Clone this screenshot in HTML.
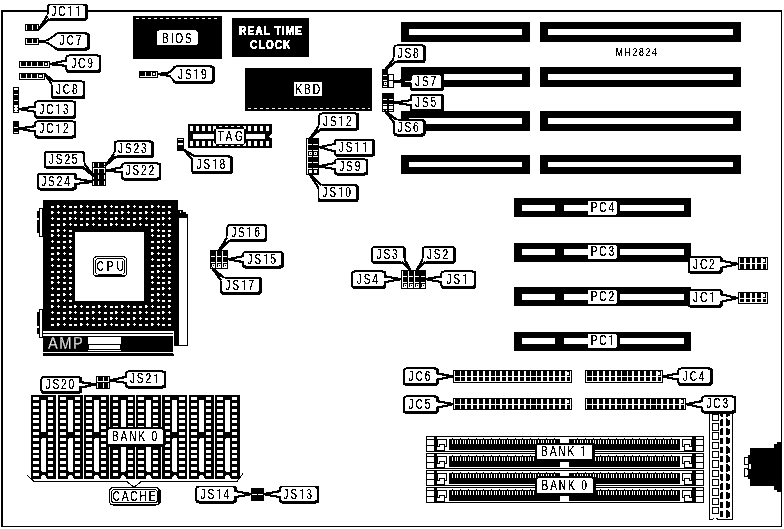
<!DOCTYPE html>
<html><head><meta charset="utf-8"><title>MH2824 motherboard layout</title>
<style>
html,body{margin:0;padding:0;background:#fff;}
body{width:784px;height:529px;overflow:hidden;font-family:"Liberation Sans",sans-serif;}
svg{display:block;}
text{font-family:"Liberation Sans",sans-serif;}
</style></head><body>
<svg width="784" height="529" viewBox="0 0 784 529" shape-rendering="auto">
<defs><filter id="bw" x="0" y="0" width="784" height="529" filterUnits="userSpaceOnUse" color-interpolation-filters="sRGB">
<feColorMatrix type="saturate" values="0"/>
<feComponentTransfer><feFuncR type="discrete" tableValues="0 1"/><feFuncG type="discrete" tableValues="0 1"/><feFuncB type="discrete" tableValues="0 1"/></feComponentTransfer>
</filter>
<filter id="bwt" x="0" y="0" width="784" height="529" filterUnits="userSpaceOnUse" color-interpolation-filters="sRGB">
<feComponentTransfer><feFuncA type="discrete" tableValues="0 0 0 1 1 1 1 1"/></feComponentTransfer>
</filter></defs>
<g filter="url(#bw)">
<rect x="0" y="0" width="784" height="529" fill="#fff"/>
<rect x="1.00" y="10.00" width="781.00" height="517.00" fill="#000" />
<rect x="3.00" y="12.00" width="778.00" height="514.00" fill="#fff" />
<rect x="133.00" y="16.00" width="89.00" height="43.00" fill="#000" />
<path d="M136 18.5 H220" stroke="#fff" stroke-width="1" stroke-dasharray="3 3"/>
<rect x="157.00" y="30.50" width="40.50" height="14.50" fill="#fff" rx="1.5"/>
<rect x="232.00" y="18.00" width="77.00" height="39.00" fill="#000" />
<rect x="245.00" y="68.00" width="127.00" height="43.00" fill="#000" />
<path d="M248 108.5 H370" stroke="#fff" stroke-width="1" stroke-dasharray="3 3"/>
<rect x="294.00" y="82.00" width="28.00" height="14.00" fill="#fff" />
<rect x="188.00" y="124.00" width="84.00" height="24.00" fill="#000" />
<rect x="190.00" y="126.00" width="3.00" height="5.00" fill="#fff" />
<rect x="190.00" y="141.00" width="3.00" height="5.00" fill="#fff" />
<rect x="196.00" y="126.00" width="3.00" height="5.00" fill="#fff" />
<rect x="196.00" y="141.00" width="3.00" height="5.00" fill="#fff" />
<rect x="202.00" y="126.00" width="3.00" height="5.00" fill="#fff" />
<rect x="202.00" y="141.00" width="3.00" height="5.00" fill="#fff" />
<rect x="208.00" y="126.00" width="3.00" height="5.00" fill="#fff" />
<rect x="208.00" y="141.00" width="3.00" height="5.00" fill="#fff" />
<rect x="213.00" y="126.00" width="3.00" height="5.00" fill="#fff" />
<rect x="213.00" y="141.00" width="3.00" height="5.00" fill="#fff" />
<rect x="219.00" y="126.00" width="3.00" height="5.00" fill="#fff" />
<rect x="219.00" y="141.00" width="3.00" height="5.00" fill="#fff" />
<rect x="225.00" y="126.00" width="3.00" height="5.00" fill="#fff" />
<rect x="225.00" y="141.00" width="3.00" height="5.00" fill="#fff" />
<rect x="231.00" y="126.00" width="3.00" height="5.00" fill="#fff" />
<rect x="231.00" y="141.00" width="3.00" height="5.00" fill="#fff" />
<rect x="237.00" y="126.00" width="3.00" height="5.00" fill="#fff" />
<rect x="237.00" y="141.00" width="3.00" height="5.00" fill="#fff" />
<rect x="243.00" y="126.00" width="3.00" height="5.00" fill="#fff" />
<rect x="243.00" y="141.00" width="3.00" height="5.00" fill="#fff" />
<rect x="248.00" y="126.00" width="3.00" height="5.00" fill="#fff" />
<rect x="248.00" y="141.00" width="3.00" height="5.00" fill="#fff" />
<rect x="254.00" y="126.00" width="3.00" height="5.00" fill="#fff" />
<rect x="254.00" y="141.00" width="3.00" height="5.00" fill="#fff" />
<rect x="260.00" y="126.00" width="3.00" height="5.00" fill="#fff" />
<rect x="260.00" y="141.00" width="3.00" height="5.00" fill="#fff" />
<rect x="266.00" y="126.00" width="3.00" height="5.00" fill="#fff" />
<rect x="266.00" y="141.00" width="3.00" height="5.00" fill="#fff" />
<rect x="193.00" y="134.00" width="72.00" height="5.00" fill="#fff" />
<path d="M272.2 133.8 L268.8 136.4 L272.2 139 Z" fill="#fff"/>
<rect x="214.00" y="127.00" width="32.00" height="18.00" fill="#000" />
<rect x="214" y="127" width="2" height="2" fill="#fff"/><rect x="244" y="127" width="2" height="2" fill="#fff"/><rect x="214" y="143" width="2" height="2" fill="#fff"/><rect x="244" y="143" width="2" height="2" fill="#fff"/>
<rect x="215" y="128" width="30" height="16" rx="1.5" fill="#000"/>
<rect x="216.00" y="129.00" width="28.00" height="14.50" fill="#fff" />
<rect x="401.00" y="22.00" width="129.00" height="20.00" fill="#000" />
<rect x="409.00" y="29.00" width="113.00" height="6.00" fill="#fff" />
<rect x="540.00" y="22.00" width="201.00" height="20.00" fill="#000" />
<rect x="548.00" y="29.00" width="185.00" height="6.00" fill="#fff" />
<rect x="401.00" y="67.00" width="129.00" height="20.00" fill="#000" />
<rect x="412.00" y="74.00" width="110.00" height="6.00" fill="#fff" />
<rect x="540.00" y="67.00" width="201.00" height="20.00" fill="#000" />
<rect x="548.00" y="74.00" width="185.00" height="6.00" fill="#fff" />
<rect x="401.00" y="111.00" width="129.00" height="20.00" fill="#000" />
<rect x="409.00" y="118.00" width="113.00" height="6.00" fill="#fff" />
<rect x="540.00" y="111.00" width="201.00" height="20.00" fill="#000" />
<rect x="548.00" y="118.00" width="185.00" height="6.00" fill="#fff" />
<rect x="401.00" y="155.00" width="129.00" height="19.00" fill="#000" />
<rect x="409.00" y="162.00" width="113.00" height="5.00" fill="#fff" />
<rect x="540.00" y="155.00" width="201.00" height="19.00" fill="#000" />
<rect x="548.00" y="162.00" width="185.00" height="5.00" fill="#fff" />
<rect x="514.00" y="198.00" width="177.00" height="19.00" fill="#000" />
<rect x="522.00" y="205.00" width="33.00" height="6.00" fill="#fff" />
<rect x="564.00" y="205.00" width="25.00" height="6.00" fill="#fff" />
<rect x="620.00" y="205.00" width="64.00" height="6.00" fill="#fff" />
<rect x="587.6" y="201" width="29.6" height="14" rx="2" fill="#fff"/>
<rect x="514.00" y="243.00" width="177.00" height="19.00" fill="#000" />
<rect x="522.00" y="249.00" width="33.00" height="6.00" fill="#fff" />
<rect x="564.00" y="249.00" width="25.00" height="6.00" fill="#fff" />
<rect x="620.00" y="249.00" width="64.00" height="6.00" fill="#fff" />
<rect x="587.6" y="245" width="29.6" height="14" rx="2" fill="#fff"/>
<rect x="514.00" y="287.00" width="177.00" height="19.00" fill="#000" />
<rect x="522.00" y="294.00" width="33.00" height="6.00" fill="#fff" />
<rect x="564.00" y="294.00" width="25.00" height="6.00" fill="#fff" />
<rect x="620.00" y="294.00" width="64.00" height="6.00" fill="#fff" />
<rect x="587.6" y="290" width="29.6" height="14" rx="2" fill="#fff"/>
<rect x="514.00" y="332.00" width="177.00" height="19.00" fill="#000" />
<rect x="522.00" y="338.00" width="33.00" height="6.00" fill="#fff" />
<rect x="564.00" y="338.00" width="25.00" height="6.00" fill="#fff" />
<rect x="620.00" y="338.00" width="64.00" height="6.00" fill="#fff" />
<rect x="587.6" y="334" width="29.6" height="14" rx="2" fill="#fff"/>
<rect x="37.00" y="211.00" width="3.00" height="22.00" fill="#000" />
<rect x="39.00" y="208.00" width="4.50" height="29.00" fill="#000" />
<rect x="40.00" y="209.00" width="2.00" height="27.00" fill="#fff" />
<rect x="36.50" y="218.50" width="2.50" height="1.00" fill="#fff" />
<rect x="37.00" y="312.00" width="3.00" height="22.00" fill="#000" />
<rect x="39.00" y="309.00" width="4.50" height="29.00" fill="#000" />
<rect x="40.00" y="310.00" width="2.00" height="27.00" fill="#fff" />
<rect x="36.50" y="326.50" width="2.50" height="1.00" fill="#fff" />
<rect x="178.00" y="210.00" width="5.00" height="2.00" fill="#000" />
<rect x="178.00" y="212.00" width="8.00" height="2.00" fill="#000" />
<rect x="178.00" y="214.00" width="10.20" height="132.00" fill="#000" />
<rect x="179.00" y="218.20" width="8.00" height="126.60" fill="#fff" />
<rect x="180.00" y="211.00" width="1.00" height="2.00" fill="#fff" />
<rect x="43.00" y="200.00" width="135.00" height="155.50" fill="#000" />
<rect x="75.00" y="232.00" width="69.00" height="68.70" fill="#fff" />
<rect x="51.00" y="206.00" width="3.00" height="2.00" fill="#fff" />
<rect x="57.00" y="205.00" width="2.00" height="3.00" fill="#fff" />
<rect x="59.00" y="206.00" width="1.00" height="1.00" fill="#fff" />
<rect x="63.00" y="206.00" width="3.00" height="1.00" fill="#fff" />
<rect x="64.00" y="205.00" width="1.00" height="3.00" fill="#fff" />
<rect x="69.00" y="206.00" width="3.00" height="2.00" fill="#fff" />
<rect x="74.00" y="206.00" width="3.00" height="2.00" fill="#fff" />
<rect x="80.00" y="205.00" width="2.00" height="3.00" fill="#fff" />
<rect x="82.00" y="206.00" width="1.00" height="1.00" fill="#fff" />
<rect x="86.00" y="206.00" width="3.00" height="1.00" fill="#fff" />
<rect x="87.00" y="205.00" width="1.00" height="3.00" fill="#fff" />
<rect x="92.00" y="206.00" width="3.00" height="2.00" fill="#fff" />
<rect x="98.00" y="206.00" width="3.00" height="2.00" fill="#fff" />
<rect x="104.00" y="205.00" width="2.00" height="3.00" fill="#fff" />
<rect x="106.00" y="206.00" width="1.00" height="1.00" fill="#fff" />
<rect x="110.00" y="206.00" width="3.00" height="1.00" fill="#fff" />
<rect x="111.00" y="205.00" width="1.00" height="3.00" fill="#fff" />
<rect x="115.00" y="206.00" width="3.00" height="2.00" fill="#fff" />
<rect x="121.00" y="206.00" width="3.00" height="2.00" fill="#fff" />
<rect x="127.00" y="205.00" width="2.00" height="3.00" fill="#fff" />
<rect x="129.00" y="206.00" width="1.00" height="1.00" fill="#fff" />
<rect x="133.00" y="206.00" width="3.00" height="1.00" fill="#fff" />
<rect x="134.00" y="205.00" width="1.00" height="3.00" fill="#fff" />
<rect x="139.00" y="206.00" width="3.00" height="2.00" fill="#fff" />
<rect x="145.00" y="206.00" width="3.00" height="2.00" fill="#fff" />
<rect x="151.00" y="205.00" width="2.00" height="3.00" fill="#fff" />
<rect x="153.00" y="206.00" width="1.00" height="1.00" fill="#fff" />
<rect x="157.00" y="206.00" width="3.00" height="1.00" fill="#fff" />
<rect x="158.00" y="205.00" width="1.00" height="3.00" fill="#fff" />
<rect x="162.00" y="206.00" width="3.00" height="2.00" fill="#fff" />
<rect x="168.00" y="206.00" width="3.00" height="2.00" fill="#fff" />
<rect x="51.00" y="211.00" width="2.00" height="3.00" fill="#fff" />
<rect x="53.00" y="212.00" width="1.00" height="1.00" fill="#fff" />
<rect x="57.00" y="212.00" width="3.00" height="1.00" fill="#fff" />
<rect x="58.00" y="211.00" width="1.00" height="3.00" fill="#fff" />
<rect x="63.00" y="212.00" width="3.00" height="2.00" fill="#fff" />
<rect x="69.00" y="212.00" width="3.00" height="2.00" fill="#fff" />
<rect x="74.00" y="211.00" width="2.00" height="3.00" fill="#fff" />
<rect x="76.00" y="212.00" width="1.00" height="1.00" fill="#fff" />
<rect x="80.00" y="212.00" width="3.00" height="1.00" fill="#fff" />
<rect x="81.00" y="211.00" width="1.00" height="3.00" fill="#fff" />
<rect x="86.00" y="212.00" width="3.00" height="2.00" fill="#fff" />
<rect x="92.00" y="212.00" width="3.00" height="2.00" fill="#fff" />
<rect x="98.00" y="211.00" width="2.00" height="3.00" fill="#fff" />
<rect x="100.00" y="212.00" width="1.00" height="1.00" fill="#fff" />
<rect x="104.00" y="212.00" width="3.00" height="1.00" fill="#fff" />
<rect x="105.00" y="211.00" width="1.00" height="3.00" fill="#fff" />
<rect x="110.00" y="212.00" width="3.00" height="2.00" fill="#fff" />
<rect x="115.00" y="212.00" width="3.00" height="2.00" fill="#fff" />
<rect x="121.00" y="211.00" width="2.00" height="3.00" fill="#fff" />
<rect x="123.00" y="212.00" width="1.00" height="1.00" fill="#fff" />
<rect x="127.00" y="212.00" width="3.00" height="1.00" fill="#fff" />
<rect x="128.00" y="211.00" width="1.00" height="3.00" fill="#fff" />
<rect x="133.00" y="212.00" width="3.00" height="2.00" fill="#fff" />
<rect x="139.00" y="212.00" width="3.00" height="2.00" fill="#fff" />
<rect x="145.00" y="211.00" width="2.00" height="3.00" fill="#fff" />
<rect x="147.00" y="212.00" width="1.00" height="1.00" fill="#fff" />
<rect x="151.00" y="212.00" width="3.00" height="1.00" fill="#fff" />
<rect x="152.00" y="211.00" width="1.00" height="3.00" fill="#fff" />
<rect x="157.00" y="212.00" width="3.00" height="2.00" fill="#fff" />
<rect x="162.00" y="212.00" width="3.00" height="2.00" fill="#fff" />
<rect x="168.00" y="211.00" width="2.00" height="3.00" fill="#fff" />
<rect x="170.00" y="212.00" width="1.00" height="1.00" fill="#fff" />
<rect x="51.00" y="218.00" width="3.00" height="1.00" fill="#fff" />
<rect x="52.00" y="217.00" width="1.00" height="3.00" fill="#fff" />
<rect x="57.00" y="218.00" width="3.00" height="2.00" fill="#fff" />
<rect x="63.00" y="218.00" width="3.00" height="2.00" fill="#fff" />
<rect x="69.00" y="217.00" width="2.00" height="3.00" fill="#fff" />
<rect x="71.00" y="218.00" width="1.00" height="1.00" fill="#fff" />
<rect x="74.00" y="218.00" width="3.00" height="1.00" fill="#fff" />
<rect x="75.00" y="217.00" width="1.00" height="3.00" fill="#fff" />
<rect x="80.00" y="218.00" width="3.00" height="2.00" fill="#fff" />
<rect x="86.00" y="218.00" width="3.00" height="2.00" fill="#fff" />
<rect x="92.00" y="217.00" width="2.00" height="3.00" fill="#fff" />
<rect x="94.00" y="218.00" width="1.00" height="1.00" fill="#fff" />
<rect x="98.00" y="218.00" width="3.00" height="1.00" fill="#fff" />
<rect x="99.00" y="217.00" width="1.00" height="3.00" fill="#fff" />
<rect x="104.00" y="218.00" width="3.00" height="2.00" fill="#fff" />
<rect x="110.00" y="218.00" width="3.00" height="2.00" fill="#fff" />
<rect x="115.00" y="217.00" width="2.00" height="3.00" fill="#fff" />
<rect x="117.00" y="218.00" width="1.00" height="1.00" fill="#fff" />
<rect x="121.00" y="218.00" width="3.00" height="1.00" fill="#fff" />
<rect x="122.00" y="217.00" width="1.00" height="3.00" fill="#fff" />
<rect x="127.00" y="218.00" width="3.00" height="2.00" fill="#fff" />
<rect x="133.00" y="218.00" width="3.00" height="2.00" fill="#fff" />
<rect x="139.00" y="217.00" width="2.00" height="3.00" fill="#fff" />
<rect x="141.00" y="218.00" width="1.00" height="1.00" fill="#fff" />
<rect x="145.00" y="218.00" width="3.00" height="1.00" fill="#fff" />
<rect x="146.00" y="217.00" width="1.00" height="3.00" fill="#fff" />
<rect x="151.00" y="218.00" width="3.00" height="2.00" fill="#fff" />
<rect x="157.00" y="218.00" width="3.00" height="2.00" fill="#fff" />
<rect x="162.00" y="217.00" width="2.00" height="3.00" fill="#fff" />
<rect x="164.00" y="218.00" width="1.00" height="1.00" fill="#fff" />
<rect x="168.00" y="218.00" width="3.00" height="1.00" fill="#fff" />
<rect x="169.00" y="217.00" width="1.00" height="3.00" fill="#fff" />
<rect x="51.00" y="224.00" width="3.00" height="2.00" fill="#fff" />
<rect x="57.00" y="224.00" width="3.00" height="2.00" fill="#fff" />
<rect x="63.00" y="223.00" width="2.00" height="3.00" fill="#fff" />
<rect x="65.00" y="224.00" width="1.00" height="1.00" fill="#fff" />
<rect x="69.00" y="224.00" width="3.00" height="1.00" fill="#fff" />
<rect x="70.00" y="223.00" width="1.00" height="3.00" fill="#fff" />
<rect x="74.00" y="224.00" width="3.00" height="2.00" fill="#fff" />
<rect x="80.00" y="224.00" width="3.00" height="2.00" fill="#fff" />
<rect x="86.00" y="223.00" width="2.00" height="3.00" fill="#fff" />
<rect x="88.00" y="224.00" width="1.00" height="1.00" fill="#fff" />
<rect x="92.00" y="224.00" width="3.00" height="1.00" fill="#fff" />
<rect x="93.00" y="223.00" width="1.00" height="3.00" fill="#fff" />
<rect x="98.00" y="224.00" width="3.00" height="2.00" fill="#fff" />
<rect x="104.00" y="224.00" width="3.00" height="2.00" fill="#fff" />
<rect x="110.00" y="223.00" width="2.00" height="3.00" fill="#fff" />
<rect x="112.00" y="224.00" width="1.00" height="1.00" fill="#fff" />
<rect x="115.00" y="224.00" width="3.00" height="1.00" fill="#fff" />
<rect x="116.00" y="223.00" width="1.00" height="3.00" fill="#fff" />
<rect x="121.00" y="224.00" width="3.00" height="2.00" fill="#fff" />
<rect x="127.00" y="224.00" width="3.00" height="2.00" fill="#fff" />
<rect x="133.00" y="223.00" width="2.00" height="3.00" fill="#fff" />
<rect x="135.00" y="224.00" width="1.00" height="1.00" fill="#fff" />
<rect x="139.00" y="224.00" width="3.00" height="1.00" fill="#fff" />
<rect x="140.00" y="223.00" width="1.00" height="3.00" fill="#fff" />
<rect x="145.00" y="224.00" width="3.00" height="2.00" fill="#fff" />
<rect x="151.00" y="224.00" width="3.00" height="2.00" fill="#fff" />
<rect x="157.00" y="223.00" width="2.00" height="3.00" fill="#fff" />
<rect x="159.00" y="224.00" width="1.00" height="1.00" fill="#fff" />
<rect x="162.00" y="224.00" width="3.00" height="1.00" fill="#fff" />
<rect x="163.00" y="223.00" width="1.00" height="3.00" fill="#fff" />
<rect x="168.00" y="224.00" width="3.00" height="2.00" fill="#fff" />
<rect x="51.00" y="230.00" width="3.00" height="2.00" fill="#fff" />
<rect x="57.00" y="229.00" width="2.00" height="3.00" fill="#fff" />
<rect x="59.00" y="230.00" width="1.00" height="1.00" fill="#fff" />
<rect x="63.00" y="230.00" width="3.00" height="1.00" fill="#fff" />
<rect x="64.00" y="229.00" width="1.00" height="3.00" fill="#fff" />
<rect x="69.00" y="230.00" width="3.00" height="2.00" fill="#fff" />
<rect x="151.00" y="229.00" width="2.00" height="3.00" fill="#fff" />
<rect x="153.00" y="230.00" width="1.00" height="1.00" fill="#fff" />
<rect x="157.00" y="230.00" width="3.00" height="1.00" fill="#fff" />
<rect x="158.00" y="229.00" width="1.00" height="3.00" fill="#fff" />
<rect x="162.00" y="230.00" width="3.00" height="2.00" fill="#fff" />
<rect x="168.00" y="230.00" width="3.00" height="2.00" fill="#fff" />
<rect x="51.00" y="234.00" width="2.00" height="3.00" fill="#fff" />
<rect x="53.00" y="235.00" width="1.00" height="1.00" fill="#fff" />
<rect x="57.00" y="235.00" width="3.00" height="1.00" fill="#fff" />
<rect x="58.00" y="234.00" width="1.00" height="3.00" fill="#fff" />
<rect x="63.00" y="235.00" width="3.00" height="2.00" fill="#fff" />
<rect x="69.00" y="235.00" width="3.00" height="2.00" fill="#fff" />
<rect x="151.00" y="235.00" width="3.00" height="1.00" fill="#fff" />
<rect x="152.00" y="234.00" width="1.00" height="3.00" fill="#fff" />
<rect x="157.00" y="235.00" width="3.00" height="2.00" fill="#fff" />
<rect x="162.00" y="235.00" width="3.00" height="2.00" fill="#fff" />
<rect x="168.00" y="234.00" width="2.00" height="3.00" fill="#fff" />
<rect x="170.00" y="235.00" width="1.00" height="1.00" fill="#fff" />
<rect x="51.00" y="241.00" width="3.00" height="1.00" fill="#fff" />
<rect x="52.00" y="240.00" width="1.00" height="3.00" fill="#fff" />
<rect x="57.00" y="241.00" width="3.00" height="2.00" fill="#fff" />
<rect x="63.00" y="241.00" width="3.00" height="2.00" fill="#fff" />
<rect x="69.00" y="240.00" width="2.00" height="3.00" fill="#fff" />
<rect x="71.00" y="241.00" width="1.00" height="1.00" fill="#fff" />
<rect x="151.00" y="241.00" width="3.00" height="2.00" fill="#fff" />
<rect x="157.00" y="241.00" width="3.00" height="2.00" fill="#fff" />
<rect x="162.00" y="240.00" width="2.00" height="3.00" fill="#fff" />
<rect x="164.00" y="241.00" width="1.00" height="1.00" fill="#fff" />
<rect x="168.00" y="241.00" width="3.00" height="1.00" fill="#fff" />
<rect x="169.00" y="240.00" width="1.00" height="3.00" fill="#fff" />
<rect x="51.00" y="247.00" width="3.00" height="2.00" fill="#fff" />
<rect x="57.00" y="247.00" width="3.00" height="2.00" fill="#fff" />
<rect x="63.00" y="246.00" width="2.00" height="3.00" fill="#fff" />
<rect x="65.00" y="247.00" width="1.00" height="1.00" fill="#fff" />
<rect x="69.00" y="247.00" width="3.00" height="1.00" fill="#fff" />
<rect x="70.00" y="246.00" width="1.00" height="3.00" fill="#fff" />
<rect x="151.00" y="247.00" width="3.00" height="2.00" fill="#fff" />
<rect x="157.00" y="246.00" width="2.00" height="3.00" fill="#fff" />
<rect x="159.00" y="247.00" width="1.00" height="1.00" fill="#fff" />
<rect x="162.00" y="247.00" width="3.00" height="1.00" fill="#fff" />
<rect x="163.00" y="246.00" width="1.00" height="3.00" fill="#fff" />
<rect x="168.00" y="247.00" width="3.00" height="2.00" fill="#fff" />
<rect x="51.00" y="253.00" width="3.00" height="2.00" fill="#fff" />
<rect x="57.00" y="252.00" width="2.00" height="3.00" fill="#fff" />
<rect x="59.00" y="253.00" width="1.00" height="1.00" fill="#fff" />
<rect x="63.00" y="253.00" width="3.00" height="1.00" fill="#fff" />
<rect x="64.00" y="252.00" width="1.00" height="3.00" fill="#fff" />
<rect x="69.00" y="253.00" width="3.00" height="2.00" fill="#fff" />
<rect x="151.00" y="252.00" width="2.00" height="3.00" fill="#fff" />
<rect x="153.00" y="253.00" width="1.00" height="1.00" fill="#fff" />
<rect x="157.00" y="253.00" width="3.00" height="1.00" fill="#fff" />
<rect x="158.00" y="252.00" width="1.00" height="3.00" fill="#fff" />
<rect x="162.00" y="253.00" width="3.00" height="2.00" fill="#fff" />
<rect x="168.00" y="253.00" width="3.00" height="2.00" fill="#fff" />
<rect x="51.00" y="258.00" width="2.00" height="3.00" fill="#fff" />
<rect x="53.00" y="259.00" width="1.00" height="1.00" fill="#fff" />
<rect x="57.00" y="259.00" width="3.00" height="1.00" fill="#fff" />
<rect x="58.00" y="258.00" width="1.00" height="3.00" fill="#fff" />
<rect x="63.00" y="259.00" width="3.00" height="2.00" fill="#fff" />
<rect x="69.00" y="259.00" width="3.00" height="2.00" fill="#fff" />
<rect x="151.00" y="259.00" width="3.00" height="1.00" fill="#fff" />
<rect x="152.00" y="258.00" width="1.00" height="3.00" fill="#fff" />
<rect x="157.00" y="259.00" width="3.00" height="2.00" fill="#fff" />
<rect x="162.00" y="259.00" width="3.00" height="2.00" fill="#fff" />
<rect x="168.00" y="258.00" width="2.00" height="3.00" fill="#fff" />
<rect x="170.00" y="259.00" width="1.00" height="1.00" fill="#fff" />
<rect x="51.00" y="265.00" width="3.00" height="1.00" fill="#fff" />
<rect x="52.00" y="264.00" width="1.00" height="3.00" fill="#fff" />
<rect x="57.00" y="265.00" width="3.00" height="2.00" fill="#fff" />
<rect x="63.00" y="265.00" width="3.00" height="2.00" fill="#fff" />
<rect x="69.00" y="264.00" width="2.00" height="3.00" fill="#fff" />
<rect x="71.00" y="265.00" width="1.00" height="1.00" fill="#fff" />
<rect x="151.00" y="265.00" width="3.00" height="2.00" fill="#fff" />
<rect x="157.00" y="265.00" width="3.00" height="2.00" fill="#fff" />
<rect x="162.00" y="264.00" width="2.00" height="3.00" fill="#fff" />
<rect x="164.00" y="265.00" width="1.00" height="1.00" fill="#fff" />
<rect x="168.00" y="265.00" width="3.00" height="1.00" fill="#fff" />
<rect x="169.00" y="264.00" width="1.00" height="3.00" fill="#fff" />
<rect x="51.00" y="271.00" width="3.00" height="2.00" fill="#fff" />
<rect x="57.00" y="271.00" width="3.00" height="2.00" fill="#fff" />
<rect x="63.00" y="270.00" width="2.00" height="3.00" fill="#fff" />
<rect x="65.00" y="271.00" width="1.00" height="1.00" fill="#fff" />
<rect x="69.00" y="271.00" width="3.00" height="1.00" fill="#fff" />
<rect x="70.00" y="270.00" width="1.00" height="3.00" fill="#fff" />
<rect x="151.00" y="271.00" width="3.00" height="2.00" fill="#fff" />
<rect x="157.00" y="270.00" width="2.00" height="3.00" fill="#fff" />
<rect x="159.00" y="271.00" width="1.00" height="1.00" fill="#fff" />
<rect x="162.00" y="271.00" width="3.00" height="1.00" fill="#fff" />
<rect x="163.00" y="270.00" width="1.00" height="3.00" fill="#fff" />
<rect x="168.00" y="271.00" width="3.00" height="2.00" fill="#fff" />
<rect x="51.00" y="277.00" width="3.00" height="2.00" fill="#fff" />
<rect x="57.00" y="276.00" width="2.00" height="3.00" fill="#fff" />
<rect x="59.00" y="277.00" width="1.00" height="1.00" fill="#fff" />
<rect x="63.00" y="277.00" width="3.00" height="1.00" fill="#fff" />
<rect x="64.00" y="276.00" width="1.00" height="3.00" fill="#fff" />
<rect x="69.00" y="277.00" width="3.00" height="2.00" fill="#fff" />
<rect x="151.00" y="276.00" width="2.00" height="3.00" fill="#fff" />
<rect x="153.00" y="277.00" width="1.00" height="1.00" fill="#fff" />
<rect x="157.00" y="277.00" width="3.00" height="1.00" fill="#fff" />
<rect x="158.00" y="276.00" width="1.00" height="3.00" fill="#fff" />
<rect x="162.00" y="277.00" width="3.00" height="2.00" fill="#fff" />
<rect x="168.00" y="277.00" width="3.00" height="2.00" fill="#fff" />
<rect x="51.00" y="281.00" width="2.00" height="3.00" fill="#fff" />
<rect x="53.00" y="282.00" width="1.00" height="1.00" fill="#fff" />
<rect x="57.00" y="282.00" width="3.00" height="1.00" fill="#fff" />
<rect x="58.00" y="281.00" width="1.00" height="3.00" fill="#fff" />
<rect x="63.00" y="282.00" width="3.00" height="2.00" fill="#fff" />
<rect x="69.00" y="282.00" width="3.00" height="2.00" fill="#fff" />
<rect x="151.00" y="282.00" width="3.00" height="1.00" fill="#fff" />
<rect x="152.00" y="281.00" width="1.00" height="3.00" fill="#fff" />
<rect x="157.00" y="282.00" width="3.00" height="2.00" fill="#fff" />
<rect x="162.00" y="282.00" width="3.00" height="2.00" fill="#fff" />
<rect x="168.00" y="281.00" width="2.00" height="3.00" fill="#fff" />
<rect x="170.00" y="282.00" width="1.00" height="1.00" fill="#fff" />
<rect x="51.00" y="288.00" width="3.00" height="1.00" fill="#fff" />
<rect x="52.00" y="287.00" width="1.00" height="3.00" fill="#fff" />
<rect x="57.00" y="288.00" width="3.00" height="2.00" fill="#fff" />
<rect x="63.00" y="288.00" width="3.00" height="2.00" fill="#fff" />
<rect x="69.00" y="287.00" width="2.00" height="3.00" fill="#fff" />
<rect x="71.00" y="288.00" width="1.00" height="1.00" fill="#fff" />
<rect x="151.00" y="288.00" width="3.00" height="2.00" fill="#fff" />
<rect x="157.00" y="288.00" width="3.00" height="2.00" fill="#fff" />
<rect x="162.00" y="287.00" width="2.00" height="3.00" fill="#fff" />
<rect x="164.00" y="288.00" width="1.00" height="1.00" fill="#fff" />
<rect x="168.00" y="288.00" width="3.00" height="1.00" fill="#fff" />
<rect x="169.00" y="287.00" width="1.00" height="3.00" fill="#fff" />
<rect x="51.00" y="294.00" width="3.00" height="2.00" fill="#fff" />
<rect x="57.00" y="294.00" width="3.00" height="2.00" fill="#fff" />
<rect x="63.00" y="293.00" width="2.00" height="3.00" fill="#fff" />
<rect x="65.00" y="294.00" width="1.00" height="1.00" fill="#fff" />
<rect x="69.00" y="294.00" width="3.00" height="1.00" fill="#fff" />
<rect x="70.00" y="293.00" width="1.00" height="3.00" fill="#fff" />
<rect x="151.00" y="294.00" width="3.00" height="2.00" fill="#fff" />
<rect x="157.00" y="293.00" width="2.00" height="3.00" fill="#fff" />
<rect x="159.00" y="294.00" width="1.00" height="1.00" fill="#fff" />
<rect x="162.00" y="294.00" width="3.00" height="1.00" fill="#fff" />
<rect x="163.00" y="293.00" width="1.00" height="3.00" fill="#fff" />
<rect x="168.00" y="294.00" width="3.00" height="2.00" fill="#fff" />
<rect x="51.00" y="300.00" width="3.00" height="2.00" fill="#fff" />
<rect x="57.00" y="299.00" width="2.00" height="3.00" fill="#fff" />
<rect x="59.00" y="300.00" width="1.00" height="1.00" fill="#fff" />
<rect x="63.00" y="300.00" width="3.00" height="1.00" fill="#fff" />
<rect x="64.00" y="299.00" width="1.00" height="3.00" fill="#fff" />
<rect x="69.00" y="300.00" width="3.00" height="2.00" fill="#fff" />
<rect x="151.00" y="299.00" width="2.00" height="3.00" fill="#fff" />
<rect x="153.00" y="300.00" width="1.00" height="1.00" fill="#fff" />
<rect x="157.00" y="300.00" width="3.00" height="1.00" fill="#fff" />
<rect x="158.00" y="299.00" width="1.00" height="3.00" fill="#fff" />
<rect x="162.00" y="300.00" width="3.00" height="2.00" fill="#fff" />
<rect x="168.00" y="300.00" width="3.00" height="2.00" fill="#fff" />
<rect x="51.00" y="305.00" width="2.00" height="3.00" fill="#fff" />
<rect x="53.00" y="306.00" width="1.00" height="1.00" fill="#fff" />
<rect x="57.00" y="306.00" width="3.00" height="1.00" fill="#fff" />
<rect x="58.00" y="305.00" width="1.00" height="3.00" fill="#fff" />
<rect x="63.00" y="306.00" width="3.00" height="2.00" fill="#fff" />
<rect x="69.00" y="306.00" width="3.00" height="2.00" fill="#fff" />
<rect x="74.00" y="305.00" width="2.00" height="3.00" fill="#fff" />
<rect x="76.00" y="306.00" width="1.00" height="1.00" fill="#fff" />
<rect x="80.00" y="306.00" width="3.00" height="1.00" fill="#fff" />
<rect x="81.00" y="305.00" width="1.00" height="3.00" fill="#fff" />
<rect x="86.00" y="306.00" width="3.00" height="2.00" fill="#fff" />
<rect x="92.00" y="306.00" width="3.00" height="2.00" fill="#fff" />
<rect x="98.00" y="305.00" width="2.00" height="3.00" fill="#fff" />
<rect x="100.00" y="306.00" width="1.00" height="1.00" fill="#fff" />
<rect x="104.00" y="306.00" width="3.00" height="1.00" fill="#fff" />
<rect x="105.00" y="305.00" width="1.00" height="3.00" fill="#fff" />
<rect x="110.00" y="306.00" width="3.00" height="2.00" fill="#fff" />
<rect x="115.00" y="306.00" width="3.00" height="2.00" fill="#fff" />
<rect x="121.00" y="305.00" width="2.00" height="3.00" fill="#fff" />
<rect x="123.00" y="306.00" width="1.00" height="1.00" fill="#fff" />
<rect x="127.00" y="306.00" width="3.00" height="1.00" fill="#fff" />
<rect x="128.00" y="305.00" width="1.00" height="3.00" fill="#fff" />
<rect x="133.00" y="306.00" width="3.00" height="2.00" fill="#fff" />
<rect x="139.00" y="306.00" width="3.00" height="2.00" fill="#fff" />
<rect x="145.00" y="305.00" width="2.00" height="3.00" fill="#fff" />
<rect x="147.00" y="306.00" width="1.00" height="1.00" fill="#fff" />
<rect x="151.00" y="306.00" width="3.00" height="1.00" fill="#fff" />
<rect x="152.00" y="305.00" width="1.00" height="3.00" fill="#fff" />
<rect x="157.00" y="306.00" width="3.00" height="2.00" fill="#fff" />
<rect x="162.00" y="306.00" width="3.00" height="2.00" fill="#fff" />
<rect x="168.00" y="305.00" width="2.00" height="3.00" fill="#fff" />
<rect x="170.00" y="306.00" width="1.00" height="1.00" fill="#fff" />
<rect x="51.00" y="312.00" width="3.00" height="1.00" fill="#fff" />
<rect x="52.00" y="311.00" width="1.00" height="3.00" fill="#fff" />
<rect x="57.00" y="312.00" width="3.00" height="2.00" fill="#fff" />
<rect x="63.00" y="312.00" width="3.00" height="2.00" fill="#fff" />
<rect x="69.00" y="311.00" width="2.00" height="3.00" fill="#fff" />
<rect x="71.00" y="312.00" width="1.00" height="1.00" fill="#fff" />
<rect x="74.00" y="312.00" width="3.00" height="1.00" fill="#fff" />
<rect x="75.00" y="311.00" width="1.00" height="3.00" fill="#fff" />
<rect x="80.00" y="312.00" width="3.00" height="2.00" fill="#fff" />
<rect x="86.00" y="312.00" width="3.00" height="2.00" fill="#fff" />
<rect x="92.00" y="311.00" width="2.00" height="3.00" fill="#fff" />
<rect x="94.00" y="312.00" width="1.00" height="1.00" fill="#fff" />
<rect x="98.00" y="312.00" width="3.00" height="1.00" fill="#fff" />
<rect x="99.00" y="311.00" width="1.00" height="3.00" fill="#fff" />
<rect x="104.00" y="312.00" width="3.00" height="2.00" fill="#fff" />
<rect x="110.00" y="312.00" width="3.00" height="2.00" fill="#fff" />
<rect x="115.00" y="311.00" width="2.00" height="3.00" fill="#fff" />
<rect x="117.00" y="312.00" width="1.00" height="1.00" fill="#fff" />
<rect x="121.00" y="312.00" width="3.00" height="1.00" fill="#fff" />
<rect x="122.00" y="311.00" width="1.00" height="3.00" fill="#fff" />
<rect x="127.00" y="312.00" width="3.00" height="2.00" fill="#fff" />
<rect x="133.00" y="312.00" width="3.00" height="2.00" fill="#fff" />
<rect x="139.00" y="311.00" width="2.00" height="3.00" fill="#fff" />
<rect x="141.00" y="312.00" width="1.00" height="1.00" fill="#fff" />
<rect x="145.00" y="312.00" width="3.00" height="1.00" fill="#fff" />
<rect x="146.00" y="311.00" width="1.00" height="3.00" fill="#fff" />
<rect x="151.00" y="312.00" width="3.00" height="2.00" fill="#fff" />
<rect x="157.00" y="312.00" width="3.00" height="2.00" fill="#fff" />
<rect x="162.00" y="311.00" width="2.00" height="3.00" fill="#fff" />
<rect x="164.00" y="312.00" width="1.00" height="1.00" fill="#fff" />
<rect x="168.00" y="312.00" width="3.00" height="1.00" fill="#fff" />
<rect x="169.00" y="311.00" width="1.00" height="3.00" fill="#fff" />
<rect x="51.00" y="318.00" width="3.00" height="2.00" fill="#fff" />
<rect x="57.00" y="318.00" width="3.00" height="2.00" fill="#fff" />
<rect x="63.00" y="317.00" width="2.00" height="3.00" fill="#fff" />
<rect x="65.00" y="318.00" width="1.00" height="1.00" fill="#fff" />
<rect x="69.00" y="318.00" width="3.00" height="1.00" fill="#fff" />
<rect x="70.00" y="317.00" width="1.00" height="3.00" fill="#fff" />
<rect x="74.00" y="318.00" width="3.00" height="2.00" fill="#fff" />
<rect x="80.00" y="318.00" width="3.00" height="2.00" fill="#fff" />
<rect x="86.00" y="317.00" width="2.00" height="3.00" fill="#fff" />
<rect x="88.00" y="318.00" width="1.00" height="1.00" fill="#fff" />
<rect x="92.00" y="318.00" width="3.00" height="1.00" fill="#fff" />
<rect x="93.00" y="317.00" width="1.00" height="3.00" fill="#fff" />
<rect x="98.00" y="318.00" width="3.00" height="2.00" fill="#fff" />
<rect x="104.00" y="318.00" width="3.00" height="2.00" fill="#fff" />
<rect x="110.00" y="317.00" width="2.00" height="3.00" fill="#fff" />
<rect x="112.00" y="318.00" width="1.00" height="1.00" fill="#fff" />
<rect x="115.00" y="318.00" width="3.00" height="1.00" fill="#fff" />
<rect x="116.00" y="317.00" width="1.00" height="3.00" fill="#fff" />
<rect x="121.00" y="318.00" width="3.00" height="2.00" fill="#fff" />
<rect x="127.00" y="318.00" width="3.00" height="2.00" fill="#fff" />
<rect x="133.00" y="317.00" width="2.00" height="3.00" fill="#fff" />
<rect x="135.00" y="318.00" width="1.00" height="1.00" fill="#fff" />
<rect x="139.00" y="318.00" width="3.00" height="1.00" fill="#fff" />
<rect x="140.00" y="317.00" width="1.00" height="3.00" fill="#fff" />
<rect x="145.00" y="318.00" width="3.00" height="2.00" fill="#fff" />
<rect x="151.00" y="318.00" width="3.00" height="2.00" fill="#fff" />
<rect x="157.00" y="317.00" width="2.00" height="3.00" fill="#fff" />
<rect x="159.00" y="318.00" width="1.00" height="1.00" fill="#fff" />
<rect x="162.00" y="318.00" width="3.00" height="1.00" fill="#fff" />
<rect x="163.00" y="317.00" width="1.00" height="3.00" fill="#fff" />
<rect x="168.00" y="318.00" width="3.00" height="2.00" fill="#fff" />
<rect x="51.00" y="324.00" width="3.00" height="2.00" fill="#fff" />
<rect x="57.00" y="323.00" width="2.00" height="3.00" fill="#fff" />
<rect x="59.00" y="324.00" width="1.00" height="1.00" fill="#fff" />
<rect x="63.00" y="324.00" width="3.00" height="1.00" fill="#fff" />
<rect x="64.00" y="323.00" width="1.00" height="3.00" fill="#fff" />
<rect x="69.00" y="324.00" width="3.00" height="2.00" fill="#fff" />
<rect x="74.00" y="324.00" width="3.00" height="2.00" fill="#fff" />
<rect x="80.00" y="323.00" width="2.00" height="3.00" fill="#fff" />
<rect x="82.00" y="324.00" width="1.00" height="1.00" fill="#fff" />
<rect x="86.00" y="324.00" width="3.00" height="1.00" fill="#fff" />
<rect x="87.00" y="323.00" width="1.00" height="3.00" fill="#fff" />
<rect x="92.00" y="324.00" width="3.00" height="2.00" fill="#fff" />
<rect x="98.00" y="324.00" width="3.00" height="2.00" fill="#fff" />
<rect x="104.00" y="323.00" width="2.00" height="3.00" fill="#fff" />
<rect x="106.00" y="324.00" width="1.00" height="1.00" fill="#fff" />
<rect x="110.00" y="324.00" width="3.00" height="1.00" fill="#fff" />
<rect x="111.00" y="323.00" width="1.00" height="3.00" fill="#fff" />
<rect x="115.00" y="324.00" width="3.00" height="2.00" fill="#fff" />
<rect x="121.00" y="324.00" width="3.00" height="2.00" fill="#fff" />
<rect x="127.00" y="323.00" width="2.00" height="3.00" fill="#fff" />
<rect x="129.00" y="324.00" width="1.00" height="1.00" fill="#fff" />
<rect x="133.00" y="324.00" width="3.00" height="1.00" fill="#fff" />
<rect x="134.00" y="323.00" width="1.00" height="3.00" fill="#fff" />
<rect x="139.00" y="324.00" width="3.00" height="2.00" fill="#fff" />
<rect x="145.00" y="324.00" width="3.00" height="2.00" fill="#fff" />
<rect x="151.00" y="323.00" width="2.00" height="3.00" fill="#fff" />
<rect x="153.00" y="324.00" width="1.00" height="1.00" fill="#fff" />
<rect x="157.00" y="324.00" width="3.00" height="1.00" fill="#fff" />
<rect x="158.00" y="323.00" width="1.00" height="3.00" fill="#fff" />
<rect x="162.00" y="324.00" width="3.00" height="2.00" fill="#fff" />
<rect x="168.00" y="324.00" width="3.00" height="2.00" fill="#fff" />
<rect x="43.00" y="331.50" width="131.00" height="1.00" fill="#fff" />
<rect x="43.00" y="334.50" width="131.00" height="1.00" fill="#fff" />
<rect x="43.00" y="352.30" width="131.00" height="1.00" fill="#fff" />
<rect x="174.20" y="345.80" width="4.30" height="10.20" fill="#fff" />
<rect x="173.00" y="331.50" width="1.00" height="21.80" fill="#fff" />
<rect x="174.00" y="331.00" width="1.00" height="14.80" fill="#000" />
<rect x="88.00" y="337.00" width="33.30" height="6.80" fill="#fff" />
<rect x="89.00" y="345.00" width="31.30" height="4.00" fill="#fff" />
<rect x="88.00" y="350.00" width="33.30" height="1.00" fill="#fff" />
<rect x="93.2" y="256.6" width="33.6" height="19.6" rx="3.5" fill="#fff" stroke="#000" stroke-width="1.3"/>
<rect x="95.4" y="258.8" width="29.2" height="15.2" rx="2.2" fill="#fff" stroke="#000" stroke-width="1"/>
<rect x="31.00" y="395.00" width="24.60" height="84.00" fill="#000" />
<rect x="33.40" y="397.00" width="5.20" height="3.00" fill="#fff" />
<rect x="48.20" y="397.00" width="5.20" height="3.00" fill="#fff" />
<rect x="33.40" y="403.00" width="5.20" height="3.00" fill="#fff" />
<rect x="48.20" y="403.00" width="5.20" height="3.00" fill="#fff" />
<rect x="33.40" y="409.00" width="5.20" height="3.00" fill="#fff" />
<rect x="48.20" y="409.00" width="5.20" height="3.00" fill="#fff" />
<rect x="33.40" y="415.00" width="5.20" height="3.00" fill="#fff" />
<rect x="48.20" y="415.00" width="5.20" height="3.00" fill="#fff" />
<rect x="33.40" y="420.00" width="5.20" height="3.00" fill="#fff" />
<rect x="48.20" y="420.00" width="5.20" height="3.00" fill="#fff" />
<rect x="33.40" y="426.00" width="5.20" height="3.00" fill="#fff" />
<rect x="48.20" y="426.00" width="5.20" height="3.00" fill="#fff" />
<rect x="33.40" y="432.00" width="5.20" height="3.00" fill="#fff" />
<rect x="48.20" y="432.00" width="5.20" height="3.00" fill="#fff" />
<rect x="33.40" y="438.00" width="5.20" height="3.00" fill="#fff" />
<rect x="48.20" y="438.00" width="5.20" height="3.00" fill="#fff" />
<rect x="33.40" y="444.00" width="5.20" height="3.00" fill="#fff" />
<rect x="48.20" y="444.00" width="5.20" height="3.00" fill="#fff" />
<rect x="33.40" y="450.00" width="5.20" height="3.00" fill="#fff" />
<rect x="48.20" y="450.00" width="5.20" height="3.00" fill="#fff" />
<rect x="33.40" y="455.00" width="5.20" height="3.00" fill="#fff" />
<rect x="48.20" y="455.00" width="5.20" height="3.00" fill="#fff" />
<rect x="33.40" y="461.00" width="5.20" height="3.00" fill="#fff" />
<rect x="48.20" y="461.00" width="5.20" height="3.00" fill="#fff" />
<rect x="33.40" y="467.00" width="5.20" height="3.00" fill="#fff" />
<rect x="48.20" y="467.00" width="5.20" height="3.00" fill="#fff" />
<rect x="33.40" y="473.00" width="5.20" height="3.00" fill="#fff" />
<rect x="48.20" y="473.00" width="5.20" height="3.00" fill="#fff" />
<rect x="41.20" y="400.00" width="4.80" height="32.00" fill="#fff" />
<rect x="41.20" y="438.50" width="4.80" height="33.00" fill="#fff" />
<path d="M40.20 479.2 L42.00 475.6 L45.20 475.6 L47.00 479.2 Z" fill="#fff"/>
<rect x="58.00" y="395.00" width="24.60" height="84.00" fill="#000" />
<rect x="60.40" y="397.00" width="5.20" height="3.00" fill="#fff" />
<rect x="75.20" y="397.00" width="5.20" height="3.00" fill="#fff" />
<rect x="60.40" y="403.00" width="5.20" height="3.00" fill="#fff" />
<rect x="75.20" y="403.00" width="5.20" height="3.00" fill="#fff" />
<rect x="60.40" y="409.00" width="5.20" height="3.00" fill="#fff" />
<rect x="75.20" y="409.00" width="5.20" height="3.00" fill="#fff" />
<rect x="60.40" y="415.00" width="5.20" height="3.00" fill="#fff" />
<rect x="75.20" y="415.00" width="5.20" height="3.00" fill="#fff" />
<rect x="60.40" y="420.00" width="5.20" height="3.00" fill="#fff" />
<rect x="75.20" y="420.00" width="5.20" height="3.00" fill="#fff" />
<rect x="60.40" y="426.00" width="5.20" height="3.00" fill="#fff" />
<rect x="75.20" y="426.00" width="5.20" height="3.00" fill="#fff" />
<rect x="60.40" y="432.00" width="5.20" height="3.00" fill="#fff" />
<rect x="75.20" y="432.00" width="5.20" height="3.00" fill="#fff" />
<rect x="60.40" y="438.00" width="5.20" height="3.00" fill="#fff" />
<rect x="75.20" y="438.00" width="5.20" height="3.00" fill="#fff" />
<rect x="60.40" y="444.00" width="5.20" height="3.00" fill="#fff" />
<rect x="75.20" y="444.00" width="5.20" height="3.00" fill="#fff" />
<rect x="60.40" y="450.00" width="5.20" height="3.00" fill="#fff" />
<rect x="75.20" y="450.00" width="5.20" height="3.00" fill="#fff" />
<rect x="60.40" y="455.00" width="5.20" height="3.00" fill="#fff" />
<rect x="75.20" y="455.00" width="5.20" height="3.00" fill="#fff" />
<rect x="60.40" y="461.00" width="5.20" height="3.00" fill="#fff" />
<rect x="75.20" y="461.00" width="5.20" height="3.00" fill="#fff" />
<rect x="60.40" y="467.00" width="5.20" height="3.00" fill="#fff" />
<rect x="75.20" y="467.00" width="5.20" height="3.00" fill="#fff" />
<rect x="60.40" y="473.00" width="5.20" height="3.00" fill="#fff" />
<rect x="75.20" y="473.00" width="5.20" height="3.00" fill="#fff" />
<rect x="68.20" y="400.00" width="4.80" height="32.00" fill="#fff" />
<rect x="68.20" y="438.50" width="4.80" height="33.00" fill="#fff" />
<path d="M67.20 479.2 L69.00 475.6 L72.20 475.6 L74.00 479.2 Z" fill="#fff"/>
<rect x="84.00" y="395.00" width="24.60" height="84.00" fill="#000" />
<rect x="86.40" y="397.00" width="5.20" height="3.00" fill="#fff" />
<rect x="101.20" y="397.00" width="5.20" height="3.00" fill="#fff" />
<rect x="86.40" y="403.00" width="5.20" height="3.00" fill="#fff" />
<rect x="101.20" y="403.00" width="5.20" height="3.00" fill="#fff" />
<rect x="86.40" y="409.00" width="5.20" height="3.00" fill="#fff" />
<rect x="101.20" y="409.00" width="5.20" height="3.00" fill="#fff" />
<rect x="86.40" y="415.00" width="5.20" height="3.00" fill="#fff" />
<rect x="101.20" y="415.00" width="5.20" height="3.00" fill="#fff" />
<rect x="86.40" y="420.00" width="5.20" height="3.00" fill="#fff" />
<rect x="101.20" y="420.00" width="5.20" height="3.00" fill="#fff" />
<rect x="86.40" y="426.00" width="5.20" height="3.00" fill="#fff" />
<rect x="101.20" y="426.00" width="5.20" height="3.00" fill="#fff" />
<rect x="86.40" y="432.00" width="5.20" height="3.00" fill="#fff" />
<rect x="101.20" y="432.00" width="5.20" height="3.00" fill="#fff" />
<rect x="86.40" y="438.00" width="5.20" height="3.00" fill="#fff" />
<rect x="101.20" y="438.00" width="5.20" height="3.00" fill="#fff" />
<rect x="86.40" y="444.00" width="5.20" height="3.00" fill="#fff" />
<rect x="101.20" y="444.00" width="5.20" height="3.00" fill="#fff" />
<rect x="86.40" y="450.00" width="5.20" height="3.00" fill="#fff" />
<rect x="101.20" y="450.00" width="5.20" height="3.00" fill="#fff" />
<rect x="86.40" y="455.00" width="5.20" height="3.00" fill="#fff" />
<rect x="101.20" y="455.00" width="5.20" height="3.00" fill="#fff" />
<rect x="86.40" y="461.00" width="5.20" height="3.00" fill="#fff" />
<rect x="101.20" y="461.00" width="5.20" height="3.00" fill="#fff" />
<rect x="86.40" y="467.00" width="5.20" height="3.00" fill="#fff" />
<rect x="101.20" y="467.00" width="5.20" height="3.00" fill="#fff" />
<rect x="86.40" y="473.00" width="5.20" height="3.00" fill="#fff" />
<rect x="101.20" y="473.00" width="5.20" height="3.00" fill="#fff" />
<rect x="94.20" y="400.00" width="4.80" height="32.00" fill="#fff" />
<rect x="94.20" y="438.50" width="4.80" height="33.00" fill="#fff" />
<path d="M93.20 479.2 L95.00 475.6 L98.20 475.6 L100.00 479.2 Z" fill="#fff"/>
<rect x="110.50" y="395.00" width="24.60" height="84.00" fill="#000" />
<rect x="112.90" y="397.00" width="5.20" height="3.00" fill="#fff" />
<rect x="127.70" y="397.00" width="5.20" height="3.00" fill="#fff" />
<rect x="112.90" y="403.00" width="5.20" height="3.00" fill="#fff" />
<rect x="127.70" y="403.00" width="5.20" height="3.00" fill="#fff" />
<rect x="112.90" y="409.00" width="5.20" height="3.00" fill="#fff" />
<rect x="127.70" y="409.00" width="5.20" height="3.00" fill="#fff" />
<rect x="112.90" y="415.00" width="5.20" height="3.00" fill="#fff" />
<rect x="127.70" y="415.00" width="5.20" height="3.00" fill="#fff" />
<rect x="112.90" y="420.00" width="5.20" height="3.00" fill="#fff" />
<rect x="127.70" y="420.00" width="5.20" height="3.00" fill="#fff" />
<rect x="112.90" y="426.00" width="5.20" height="3.00" fill="#fff" />
<rect x="127.70" y="426.00" width="5.20" height="3.00" fill="#fff" />
<rect x="112.90" y="432.00" width="5.20" height="3.00" fill="#fff" />
<rect x="127.70" y="432.00" width="5.20" height="3.00" fill="#fff" />
<rect x="112.90" y="438.00" width="5.20" height="3.00" fill="#fff" />
<rect x="127.70" y="438.00" width="5.20" height="3.00" fill="#fff" />
<rect x="112.90" y="444.00" width="5.20" height="3.00" fill="#fff" />
<rect x="127.70" y="444.00" width="5.20" height="3.00" fill="#fff" />
<rect x="112.90" y="450.00" width="5.20" height="3.00" fill="#fff" />
<rect x="127.70" y="450.00" width="5.20" height="3.00" fill="#fff" />
<rect x="112.90" y="455.00" width="5.20" height="3.00" fill="#fff" />
<rect x="127.70" y="455.00" width="5.20" height="3.00" fill="#fff" />
<rect x="112.90" y="461.00" width="5.20" height="3.00" fill="#fff" />
<rect x="127.70" y="461.00" width="5.20" height="3.00" fill="#fff" />
<rect x="112.90" y="467.00" width="5.20" height="3.00" fill="#fff" />
<rect x="127.70" y="467.00" width="5.20" height="3.00" fill="#fff" />
<rect x="112.90" y="473.00" width="5.20" height="3.00" fill="#fff" />
<rect x="127.70" y="473.00" width="5.20" height="3.00" fill="#fff" />
<rect x="120.70" y="400.00" width="4.80" height="32.00" fill="#fff" />
<rect x="120.70" y="438.50" width="4.80" height="33.00" fill="#fff" />
<path d="M119.70 479.2 L121.50 475.6 L124.70 475.6 L126.50 479.2 Z" fill="#fff"/>
<rect x="136.00" y="395.00" width="24.60" height="84.00" fill="#000" />
<rect x="138.40" y="397.00" width="5.20" height="3.00" fill="#fff" />
<rect x="153.20" y="397.00" width="5.20" height="3.00" fill="#fff" />
<rect x="138.40" y="403.00" width="5.20" height="3.00" fill="#fff" />
<rect x="153.20" y="403.00" width="5.20" height="3.00" fill="#fff" />
<rect x="138.40" y="409.00" width="5.20" height="3.00" fill="#fff" />
<rect x="153.20" y="409.00" width="5.20" height="3.00" fill="#fff" />
<rect x="138.40" y="415.00" width="5.20" height="3.00" fill="#fff" />
<rect x="153.20" y="415.00" width="5.20" height="3.00" fill="#fff" />
<rect x="138.40" y="420.00" width="5.20" height="3.00" fill="#fff" />
<rect x="153.20" y="420.00" width="5.20" height="3.00" fill="#fff" />
<rect x="138.40" y="426.00" width="5.20" height="3.00" fill="#fff" />
<rect x="153.20" y="426.00" width="5.20" height="3.00" fill="#fff" />
<rect x="138.40" y="432.00" width="5.20" height="3.00" fill="#fff" />
<rect x="153.20" y="432.00" width="5.20" height="3.00" fill="#fff" />
<rect x="138.40" y="438.00" width="5.20" height="3.00" fill="#fff" />
<rect x="153.20" y="438.00" width="5.20" height="3.00" fill="#fff" />
<rect x="138.40" y="444.00" width="5.20" height="3.00" fill="#fff" />
<rect x="153.20" y="444.00" width="5.20" height="3.00" fill="#fff" />
<rect x="138.40" y="450.00" width="5.20" height="3.00" fill="#fff" />
<rect x="153.20" y="450.00" width="5.20" height="3.00" fill="#fff" />
<rect x="138.40" y="455.00" width="5.20" height="3.00" fill="#fff" />
<rect x="153.20" y="455.00" width="5.20" height="3.00" fill="#fff" />
<rect x="138.40" y="461.00" width="5.20" height="3.00" fill="#fff" />
<rect x="153.20" y="461.00" width="5.20" height="3.00" fill="#fff" />
<rect x="138.40" y="467.00" width="5.20" height="3.00" fill="#fff" />
<rect x="153.20" y="467.00" width="5.20" height="3.00" fill="#fff" />
<rect x="138.40" y="473.00" width="5.20" height="3.00" fill="#fff" />
<rect x="153.20" y="473.00" width="5.20" height="3.00" fill="#fff" />
<rect x="146.20" y="400.00" width="4.80" height="32.00" fill="#fff" />
<rect x="146.20" y="438.50" width="4.80" height="33.00" fill="#fff" />
<path d="M145.20 479.2 L147.00 475.6 L150.20 475.6 L152.00 479.2 Z" fill="#fff"/>
<rect x="162.30" y="395.00" width="24.60" height="84.00" fill="#000" />
<rect x="164.70" y="397.00" width="5.20" height="3.00" fill="#fff" />
<rect x="179.50" y="397.00" width="5.20" height="3.00" fill="#fff" />
<rect x="164.70" y="403.00" width="5.20" height="3.00" fill="#fff" />
<rect x="179.50" y="403.00" width="5.20" height="3.00" fill="#fff" />
<rect x="164.70" y="409.00" width="5.20" height="3.00" fill="#fff" />
<rect x="179.50" y="409.00" width="5.20" height="3.00" fill="#fff" />
<rect x="164.70" y="415.00" width="5.20" height="3.00" fill="#fff" />
<rect x="179.50" y="415.00" width="5.20" height="3.00" fill="#fff" />
<rect x="164.70" y="420.00" width="5.20" height="3.00" fill="#fff" />
<rect x="179.50" y="420.00" width="5.20" height="3.00" fill="#fff" />
<rect x="164.70" y="426.00" width="5.20" height="3.00" fill="#fff" />
<rect x="179.50" y="426.00" width="5.20" height="3.00" fill="#fff" />
<rect x="164.70" y="432.00" width="5.20" height="3.00" fill="#fff" />
<rect x="179.50" y="432.00" width="5.20" height="3.00" fill="#fff" />
<rect x="164.70" y="438.00" width="5.20" height="3.00" fill="#fff" />
<rect x="179.50" y="438.00" width="5.20" height="3.00" fill="#fff" />
<rect x="164.70" y="444.00" width="5.20" height="3.00" fill="#fff" />
<rect x="179.50" y="444.00" width="5.20" height="3.00" fill="#fff" />
<rect x="164.70" y="450.00" width="5.20" height="3.00" fill="#fff" />
<rect x="179.50" y="450.00" width="5.20" height="3.00" fill="#fff" />
<rect x="164.70" y="455.00" width="5.20" height="3.00" fill="#fff" />
<rect x="179.50" y="455.00" width="5.20" height="3.00" fill="#fff" />
<rect x="164.70" y="461.00" width="5.20" height="3.00" fill="#fff" />
<rect x="179.50" y="461.00" width="5.20" height="3.00" fill="#fff" />
<rect x="164.70" y="467.00" width="5.20" height="3.00" fill="#fff" />
<rect x="179.50" y="467.00" width="5.20" height="3.00" fill="#fff" />
<rect x="164.70" y="473.00" width="5.20" height="3.00" fill="#fff" />
<rect x="179.50" y="473.00" width="5.20" height="3.00" fill="#fff" />
<rect x="172.50" y="400.00" width="4.80" height="32.00" fill="#fff" />
<rect x="172.50" y="438.50" width="4.80" height="33.00" fill="#fff" />
<path d="M171.50 479.2 L173.30 475.6 L176.50 475.6 L178.30 479.2 Z" fill="#fff"/>
<rect x="189.00" y="395.00" width="24.60" height="84.00" fill="#000" />
<rect x="191.40" y="397.00" width="5.20" height="3.00" fill="#fff" />
<rect x="206.20" y="397.00" width="5.20" height="3.00" fill="#fff" />
<rect x="191.40" y="403.00" width="5.20" height="3.00" fill="#fff" />
<rect x="206.20" y="403.00" width="5.20" height="3.00" fill="#fff" />
<rect x="191.40" y="409.00" width="5.20" height="3.00" fill="#fff" />
<rect x="206.20" y="409.00" width="5.20" height="3.00" fill="#fff" />
<rect x="191.40" y="415.00" width="5.20" height="3.00" fill="#fff" />
<rect x="206.20" y="415.00" width="5.20" height="3.00" fill="#fff" />
<rect x="191.40" y="420.00" width="5.20" height="3.00" fill="#fff" />
<rect x="206.20" y="420.00" width="5.20" height="3.00" fill="#fff" />
<rect x="191.40" y="426.00" width="5.20" height="3.00" fill="#fff" />
<rect x="206.20" y="426.00" width="5.20" height="3.00" fill="#fff" />
<rect x="191.40" y="432.00" width="5.20" height="3.00" fill="#fff" />
<rect x="206.20" y="432.00" width="5.20" height="3.00" fill="#fff" />
<rect x="191.40" y="438.00" width="5.20" height="3.00" fill="#fff" />
<rect x="206.20" y="438.00" width="5.20" height="3.00" fill="#fff" />
<rect x="191.40" y="444.00" width="5.20" height="3.00" fill="#fff" />
<rect x="206.20" y="444.00" width="5.20" height="3.00" fill="#fff" />
<rect x="191.40" y="450.00" width="5.20" height="3.00" fill="#fff" />
<rect x="206.20" y="450.00" width="5.20" height="3.00" fill="#fff" />
<rect x="191.40" y="455.00" width="5.20" height="3.00" fill="#fff" />
<rect x="206.20" y="455.00" width="5.20" height="3.00" fill="#fff" />
<rect x="191.40" y="461.00" width="5.20" height="3.00" fill="#fff" />
<rect x="206.20" y="461.00" width="5.20" height="3.00" fill="#fff" />
<rect x="191.40" y="467.00" width="5.20" height="3.00" fill="#fff" />
<rect x="206.20" y="467.00" width="5.20" height="3.00" fill="#fff" />
<rect x="191.40" y="473.00" width="5.20" height="3.00" fill="#fff" />
<rect x="206.20" y="473.00" width="5.20" height="3.00" fill="#fff" />
<rect x="199.20" y="400.00" width="4.80" height="32.00" fill="#fff" />
<rect x="199.20" y="438.50" width="4.80" height="33.00" fill="#fff" />
<path d="M198.20 479.2 L200.00 475.6 L203.20 475.6 L205.00 479.2 Z" fill="#fff"/>
<rect x="215.00" y="395.00" width="24.60" height="84.00" fill="#000" />
<rect x="217.40" y="397.00" width="5.20" height="3.00" fill="#fff" />
<rect x="232.20" y="397.00" width="5.20" height="3.00" fill="#fff" />
<rect x="217.40" y="403.00" width="5.20" height="3.00" fill="#fff" />
<rect x="232.20" y="403.00" width="5.20" height="3.00" fill="#fff" />
<rect x="217.40" y="409.00" width="5.20" height="3.00" fill="#fff" />
<rect x="232.20" y="409.00" width="5.20" height="3.00" fill="#fff" />
<rect x="217.40" y="415.00" width="5.20" height="3.00" fill="#fff" />
<rect x="232.20" y="415.00" width="5.20" height="3.00" fill="#fff" />
<rect x="217.40" y="420.00" width="5.20" height="3.00" fill="#fff" />
<rect x="232.20" y="420.00" width="5.20" height="3.00" fill="#fff" />
<rect x="217.40" y="426.00" width="5.20" height="3.00" fill="#fff" />
<rect x="232.20" y="426.00" width="5.20" height="3.00" fill="#fff" />
<rect x="217.40" y="432.00" width="5.20" height="3.00" fill="#fff" />
<rect x="232.20" y="432.00" width="5.20" height="3.00" fill="#fff" />
<rect x="217.40" y="438.00" width="5.20" height="3.00" fill="#fff" />
<rect x="232.20" y="438.00" width="5.20" height="3.00" fill="#fff" />
<rect x="217.40" y="444.00" width="5.20" height="3.00" fill="#fff" />
<rect x="232.20" y="444.00" width="5.20" height="3.00" fill="#fff" />
<rect x="217.40" y="450.00" width="5.20" height="3.00" fill="#fff" />
<rect x="232.20" y="450.00" width="5.20" height="3.00" fill="#fff" />
<rect x="217.40" y="455.00" width="5.20" height="3.00" fill="#fff" />
<rect x="232.20" y="455.00" width="5.20" height="3.00" fill="#fff" />
<rect x="217.40" y="461.00" width="5.20" height="3.00" fill="#fff" />
<rect x="232.20" y="461.00" width="5.20" height="3.00" fill="#fff" />
<rect x="217.40" y="467.00" width="5.20" height="3.00" fill="#fff" />
<rect x="232.20" y="467.00" width="5.20" height="3.00" fill="#fff" />
<rect x="217.40" y="473.00" width="5.20" height="3.00" fill="#fff" />
<rect x="232.20" y="473.00" width="5.20" height="3.00" fill="#fff" />
<rect x="225.20" y="400.00" width="4.80" height="32.00" fill="#fff" />
<rect x="225.20" y="438.50" width="4.80" height="33.00" fill="#fff" />
<path d="M224.20 479.2 L226.00 475.6 L229.20 475.6 L231.00 479.2 Z" fill="#fff"/>
<path d="M27 475.2 L34 481.5 L127 481.5 L134 487.5 L141 481.5 L237 481.5 L243 473.5" stroke="#000" stroke-width="1.1" fill="none"/>
<rect x="426.00" y="436.00" width="278.00" height="16.00" fill="#000" />
<rect x="427.00" y="437.00" width="276.00" height="14.00" fill="#fff" />
<rect x="427.00" y="439.00" width="7.00" height="1.00" fill="#000" />
<rect x="427.00" y="445.00" width="7.00" height="1.00" fill="#000" />
<rect x="434.00" y="436.00" width="3.00" height="16.00" fill="#000" />
<rect x="437.00" y="439.00" width="10.00" height="8.00" fill="#000" />
<rect x="438.00" y="440.00" width="8.00" height="4.00" fill="#fff" />
<rect x="438.00" y="444.00" width="1.00" height="2.00" fill="#fff" />
<rect x="445.00" y="444.00" width="1.00" height="2.00" fill="#fff" />
<rect x="437.00" y="447.00" width="8.00" height="4.00" fill="#000" />
<rect x="440.00" y="445.00" width="4.00" height="5.00" fill="#fff" />
<rect x="437.00" y="447.00" width="7.00" height="3.00" fill="#fff" />
<rect x="445.00" y="447.00" width="2.00" height="4.00" fill="#fff" />
<rect x="449.00" y="439.00" width="231.00" height="11.00" fill="#000" />
<rect x="452.00" y="440.00" width="1.00" height="4.00" fill="#fff" />
<rect x="451.50" y="438.00" width="2.00" height="1.00" fill="#000" />
<rect x="455.00" y="440.00" width="1.00" height="4.00" fill="#fff" />
<rect x="457.00" y="440.00" width="1.00" height="4.00" fill="#fff" />
<rect x="460.00" y="440.00" width="1.00" height="4.00" fill="#fff" />
<rect x="459.50" y="438.00" width="2.00" height="1.00" fill="#000" />
<rect x="463.00" y="440.00" width="1.00" height="4.00" fill="#fff" />
<rect x="465.00" y="440.00" width="1.00" height="4.00" fill="#fff" />
<rect x="468.00" y="440.00" width="1.00" height="4.00" fill="#fff" />
<rect x="467.50" y="438.00" width="2.00" height="1.00" fill="#000" />
<rect x="470.00" y="440.00" width="1.00" height="4.00" fill="#fff" />
<rect x="473.00" y="440.00" width="1.00" height="4.00" fill="#fff" />
<rect x="476.00" y="440.00" width="1.00" height="4.00" fill="#fff" />
<rect x="475.50" y="438.00" width="2.00" height="1.00" fill="#000" />
<rect x="478.00" y="440.00" width="1.00" height="4.00" fill="#fff" />
<rect x="481.00" y="440.00" width="1.00" height="4.00" fill="#fff" />
<rect x="483.00" y="440.00" width="1.00" height="4.00" fill="#fff" />
<rect x="482.50" y="438.00" width="2.00" height="1.00" fill="#000" />
<rect x="486.00" y="440.00" width="1.00" height="4.00" fill="#fff" />
<rect x="489.00" y="440.00" width="1.00" height="4.00" fill="#fff" />
<rect x="491.00" y="440.00" width="1.00" height="4.00" fill="#fff" />
<rect x="490.50" y="438.00" width="2.00" height="1.00" fill="#000" />
<rect x="494.00" y="440.00" width="1.00" height="4.00" fill="#fff" />
<rect x="496.00" y="440.00" width="1.00" height="4.00" fill="#fff" />
<rect x="499.00" y="440.00" width="1.00" height="4.00" fill="#fff" />
<rect x="498.50" y="438.00" width="2.00" height="1.00" fill="#000" />
<rect x="502.00" y="440.00" width="1.00" height="4.00" fill="#fff" />
<rect x="504.00" y="440.00" width="1.00" height="4.00" fill="#fff" />
<rect x="507.00" y="440.00" width="1.00" height="4.00" fill="#fff" />
<rect x="506.50" y="438.00" width="2.00" height="1.00" fill="#000" />
<rect x="509.00" y="440.00" width="1.00" height="4.00" fill="#fff" />
<rect x="512.00" y="440.00" width="1.00" height="4.00" fill="#fff" />
<rect x="515.00" y="440.00" width="1.00" height="4.00" fill="#fff" />
<rect x="514.50" y="438.00" width="2.00" height="1.00" fill="#000" />
<rect x="517.00" y="440.00" width="1.00" height="4.00" fill="#fff" />
<rect x="520.00" y="440.00" width="1.00" height="4.00" fill="#fff" />
<rect x="522.00" y="440.00" width="1.00" height="4.00" fill="#fff" />
<rect x="521.50" y="438.00" width="2.00" height="1.00" fill="#000" />
<rect x="525.00" y="440.00" width="1.00" height="4.00" fill="#fff" />
<rect x="528.00" y="440.00" width="1.00" height="4.00" fill="#fff" />
<rect x="530.00" y="440.00" width="1.00" height="4.00" fill="#fff" />
<rect x="529.50" y="438.00" width="2.00" height="1.00" fill="#000" />
<rect x="533.00" y="440.00" width="1.00" height="4.00" fill="#fff" />
<rect x="535.00" y="440.00" width="1.00" height="4.00" fill="#fff" />
<rect x="538.00" y="440.00" width="1.00" height="4.00" fill="#fff" />
<rect x="537.50" y="438.00" width="2.00" height="1.00" fill="#000" />
<rect x="541.00" y="440.00" width="1.00" height="4.00" fill="#fff" />
<rect x="543.00" y="440.00" width="1.00" height="4.00" fill="#fff" />
<rect x="546.00" y="440.00" width="1.00" height="4.00" fill="#fff" />
<rect x="545.50" y="438.00" width="2.00" height="1.00" fill="#000" />
<rect x="548.00" y="440.00" width="1.00" height="4.00" fill="#fff" />
<rect x="551.00" y="440.00" width="1.00" height="4.00" fill="#fff" />
<rect x="554.00" y="440.00" width="1.00" height="4.00" fill="#fff" />
<rect x="553.50" y="438.00" width="2.00" height="1.00" fill="#000" />
<rect x="574.00" y="440.00" width="1.00" height="4.00" fill="#fff" />
<rect x="577.00" y="440.00" width="1.00" height="4.00" fill="#fff" />
<rect x="576.50" y="438.00" width="2.00" height="1.00" fill="#000" />
<rect x="580.00" y="440.00" width="1.00" height="4.00" fill="#fff" />
<rect x="582.00" y="440.00" width="1.00" height="4.00" fill="#fff" />
<rect x="585.00" y="440.00" width="1.00" height="4.00" fill="#fff" />
<rect x="584.50" y="438.00" width="2.00" height="1.00" fill="#000" />
<rect x="587.00" y="440.00" width="1.00" height="4.00" fill="#fff" />
<rect x="590.00" y="440.00" width="1.00" height="4.00" fill="#fff" />
<rect x="593.00" y="440.00" width="1.00" height="4.00" fill="#fff" />
<rect x="592.50" y="438.00" width="2.00" height="1.00" fill="#000" />
<rect x="595.00" y="440.00" width="1.00" height="4.00" fill="#fff" />
<rect x="598.00" y="440.00" width="1.00" height="4.00" fill="#fff" />
<rect x="600.00" y="440.00" width="1.00" height="4.00" fill="#fff" />
<rect x="599.50" y="438.00" width="2.00" height="1.00" fill="#000" />
<rect x="603.00" y="440.00" width="1.00" height="4.00" fill="#fff" />
<rect x="606.00" y="440.00" width="1.00" height="4.00" fill="#fff" />
<rect x="608.00" y="440.00" width="1.00" height="4.00" fill="#fff" />
<rect x="607.50" y="438.00" width="2.00" height="1.00" fill="#000" />
<rect x="611.00" y="440.00" width="1.00" height="4.00" fill="#fff" />
<rect x="613.00" y="440.00" width="1.00" height="4.00" fill="#fff" />
<rect x="616.00" y="440.00" width="1.00" height="4.00" fill="#fff" />
<rect x="615.50" y="438.00" width="2.00" height="1.00" fill="#000" />
<rect x="619.00" y="440.00" width="1.00" height="4.00" fill="#fff" />
<rect x="621.00" y="440.00" width="1.00" height="4.00" fill="#fff" />
<rect x="624.00" y="440.00" width="1.00" height="4.00" fill="#fff" />
<rect x="623.50" y="438.00" width="2.00" height="1.00" fill="#000" />
<rect x="626.00" y="440.00" width="1.00" height="4.00" fill="#fff" />
<rect x="629.00" y="440.00" width="1.00" height="4.00" fill="#fff" />
<rect x="632.00" y="440.00" width="1.00" height="4.00" fill="#fff" />
<rect x="631.50" y="438.00" width="2.00" height="1.00" fill="#000" />
<rect x="634.00" y="440.00" width="1.00" height="4.00" fill="#fff" />
<rect x="637.00" y="440.00" width="1.00" height="4.00" fill="#fff" />
<rect x="639.00" y="440.00" width="1.00" height="4.00" fill="#fff" />
<rect x="638.50" y="438.00" width="2.00" height="1.00" fill="#000" />
<rect x="642.00" y="440.00" width="1.00" height="4.00" fill="#fff" />
<rect x="645.00" y="440.00" width="1.00" height="4.00" fill="#fff" />
<rect x="647.00" y="440.00" width="1.00" height="4.00" fill="#fff" />
<rect x="646.50" y="438.00" width="2.00" height="1.00" fill="#000" />
<rect x="650.00" y="440.00" width="1.00" height="4.00" fill="#fff" />
<rect x="652.00" y="440.00" width="1.00" height="4.00" fill="#fff" />
<rect x="655.00" y="440.00" width="1.00" height="4.00" fill="#fff" />
<rect x="654.50" y="438.00" width="2.00" height="1.00" fill="#000" />
<rect x="658.00" y="440.00" width="1.00" height="4.00" fill="#fff" />
<rect x="660.00" y="440.00" width="1.00" height="4.00" fill="#fff" />
<rect x="663.00" y="440.00" width="1.00" height="4.00" fill="#fff" />
<rect x="662.50" y="438.00" width="2.00" height="1.00" fill="#000" />
<rect x="665.00" y="440.00" width="1.00" height="4.00" fill="#fff" />
<rect x="668.00" y="440.00" width="1.00" height="4.00" fill="#fff" />
<rect x="671.00" y="440.00" width="1.00" height="4.00" fill="#fff" />
<rect x="670.50" y="438.00" width="2.00" height="1.00" fill="#000" />
<rect x="673.00" y="440.00" width="1.00" height="4.00" fill="#fff" />
<rect x="676.00" y="440.00" width="1.00" height="4.00" fill="#fff" />
<rect x="560.00" y="438.00" width="9.00" height="5.00" fill="#fff" />
<rect x="682.00" y="439.00" width="10.00" height="8.00" fill="#000" />
<rect x="683.00" y="440.00" width="8.00" height="4.00" fill="#fff" />
<rect x="683.00" y="444.00" width="1.00" height="2.00" fill="#fff" />
<rect x="690.00" y="444.00" width="1.00" height="2.00" fill="#fff" />
<rect x="684.00" y="447.00" width="8.00" height="4.00" fill="#000" />
<rect x="685.00" y="445.00" width="4.00" height="5.00" fill="#fff" />
<rect x="685.00" y="447.00" width="7.00" height="3.00" fill="#fff" />
<rect x="682.00" y="447.00" width="2.00" height="4.00" fill="#fff" />
<rect x="692.00" y="436.00" width="4.00" height="16.00" fill="#000" />
<rect x="696.00" y="439.00" width="7.00" height="1.00" fill="#000" />
<rect x="696.00" y="445.00" width="7.00" height="1.00" fill="#000" />
<rect x="426.00" y="453.00" width="278.00" height="16.00" fill="#000" />
<rect x="427.00" y="454.00" width="276.00" height="14.00" fill="#fff" />
<rect x="427.00" y="456.00" width="7.00" height="1.00" fill="#000" />
<rect x="427.00" y="462.00" width="7.00" height="1.00" fill="#000" />
<rect x="434.00" y="453.00" width="3.00" height="16.00" fill="#000" />
<rect x="437.00" y="456.00" width="10.00" height="8.00" fill="#000" />
<rect x="438.00" y="457.00" width="8.00" height="4.00" fill="#fff" />
<rect x="438.00" y="461.00" width="1.00" height="2.00" fill="#fff" />
<rect x="445.00" y="461.00" width="1.00" height="2.00" fill="#fff" />
<rect x="437.00" y="464.00" width="8.00" height="4.00" fill="#000" />
<rect x="440.00" y="462.00" width="4.00" height="5.00" fill="#fff" />
<rect x="437.00" y="464.00" width="7.00" height="3.00" fill="#fff" />
<rect x="445.00" y="464.00" width="2.00" height="4.00" fill="#fff" />
<rect x="449.00" y="456.00" width="231.00" height="11.00" fill="#000" />
<rect x="452.00" y="457.00" width="1.00" height="4.00" fill="#fff" />
<rect x="451.50" y="455.00" width="2.00" height="1.00" fill="#000" />
<rect x="455.00" y="457.00" width="1.00" height="4.00" fill="#fff" />
<rect x="457.00" y="457.00" width="1.00" height="4.00" fill="#fff" />
<rect x="460.00" y="457.00" width="1.00" height="4.00" fill="#fff" />
<rect x="459.50" y="455.00" width="2.00" height="1.00" fill="#000" />
<rect x="463.00" y="457.00" width="1.00" height="4.00" fill="#fff" />
<rect x="465.00" y="457.00" width="1.00" height="4.00" fill="#fff" />
<rect x="468.00" y="457.00" width="1.00" height="4.00" fill="#fff" />
<rect x="467.50" y="455.00" width="2.00" height="1.00" fill="#000" />
<rect x="470.00" y="457.00" width="1.00" height="4.00" fill="#fff" />
<rect x="473.00" y="457.00" width="1.00" height="4.00" fill="#fff" />
<rect x="476.00" y="457.00" width="1.00" height="4.00" fill="#fff" />
<rect x="475.50" y="455.00" width="2.00" height="1.00" fill="#000" />
<rect x="478.00" y="457.00" width="1.00" height="4.00" fill="#fff" />
<rect x="481.00" y="457.00" width="1.00" height="4.00" fill="#fff" />
<rect x="483.00" y="457.00" width="1.00" height="4.00" fill="#fff" />
<rect x="482.50" y="455.00" width="2.00" height="1.00" fill="#000" />
<rect x="486.00" y="457.00" width="1.00" height="4.00" fill="#fff" />
<rect x="489.00" y="457.00" width="1.00" height="4.00" fill="#fff" />
<rect x="491.00" y="457.00" width="1.00" height="4.00" fill="#fff" />
<rect x="490.50" y="455.00" width="2.00" height="1.00" fill="#000" />
<rect x="494.00" y="457.00" width="1.00" height="4.00" fill="#fff" />
<rect x="496.00" y="457.00" width="1.00" height="4.00" fill="#fff" />
<rect x="499.00" y="457.00" width="1.00" height="4.00" fill="#fff" />
<rect x="498.50" y="455.00" width="2.00" height="1.00" fill="#000" />
<rect x="502.00" y="457.00" width="1.00" height="4.00" fill="#fff" />
<rect x="504.00" y="457.00" width="1.00" height="4.00" fill="#fff" />
<rect x="507.00" y="457.00" width="1.00" height="4.00" fill="#fff" />
<rect x="506.50" y="455.00" width="2.00" height="1.00" fill="#000" />
<rect x="509.00" y="457.00" width="1.00" height="4.00" fill="#fff" />
<rect x="512.00" y="457.00" width="1.00" height="4.00" fill="#fff" />
<rect x="515.00" y="457.00" width="1.00" height="4.00" fill="#fff" />
<rect x="514.50" y="455.00" width="2.00" height="1.00" fill="#000" />
<rect x="517.00" y="457.00" width="1.00" height="4.00" fill="#fff" />
<rect x="520.00" y="457.00" width="1.00" height="4.00" fill="#fff" />
<rect x="522.00" y="457.00" width="1.00" height="4.00" fill="#fff" />
<rect x="521.50" y="455.00" width="2.00" height="1.00" fill="#000" />
<rect x="525.00" y="457.00" width="1.00" height="4.00" fill="#fff" />
<rect x="528.00" y="457.00" width="1.00" height="4.00" fill="#fff" />
<rect x="530.00" y="457.00" width="1.00" height="4.00" fill="#fff" />
<rect x="529.50" y="455.00" width="2.00" height="1.00" fill="#000" />
<rect x="533.00" y="457.00" width="1.00" height="4.00" fill="#fff" />
<rect x="535.00" y="457.00" width="1.00" height="4.00" fill="#fff" />
<rect x="538.00" y="457.00" width="1.00" height="4.00" fill="#fff" />
<rect x="537.50" y="455.00" width="2.00" height="1.00" fill="#000" />
<rect x="541.00" y="457.00" width="1.00" height="4.00" fill="#fff" />
<rect x="543.00" y="457.00" width="1.00" height="4.00" fill="#fff" />
<rect x="546.00" y="457.00" width="1.00" height="4.00" fill="#fff" />
<rect x="545.50" y="455.00" width="2.00" height="1.00" fill="#000" />
<rect x="548.00" y="457.00" width="1.00" height="4.00" fill="#fff" />
<rect x="551.00" y="457.00" width="1.00" height="4.00" fill="#fff" />
<rect x="554.00" y="457.00" width="1.00" height="4.00" fill="#fff" />
<rect x="553.50" y="455.00" width="2.00" height="1.00" fill="#000" />
<rect x="574.00" y="457.00" width="1.00" height="4.00" fill="#fff" />
<rect x="577.00" y="457.00" width="1.00" height="4.00" fill="#fff" />
<rect x="576.50" y="455.00" width="2.00" height="1.00" fill="#000" />
<rect x="580.00" y="457.00" width="1.00" height="4.00" fill="#fff" />
<rect x="582.00" y="457.00" width="1.00" height="4.00" fill="#fff" />
<rect x="585.00" y="457.00" width="1.00" height="4.00" fill="#fff" />
<rect x="584.50" y="455.00" width="2.00" height="1.00" fill="#000" />
<rect x="587.00" y="457.00" width="1.00" height="4.00" fill="#fff" />
<rect x="590.00" y="457.00" width="1.00" height="4.00" fill="#fff" />
<rect x="593.00" y="457.00" width="1.00" height="4.00" fill="#fff" />
<rect x="592.50" y="455.00" width="2.00" height="1.00" fill="#000" />
<rect x="595.00" y="457.00" width="1.00" height="4.00" fill="#fff" />
<rect x="598.00" y="457.00" width="1.00" height="4.00" fill="#fff" />
<rect x="600.00" y="457.00" width="1.00" height="4.00" fill="#fff" />
<rect x="599.50" y="455.00" width="2.00" height="1.00" fill="#000" />
<rect x="603.00" y="457.00" width="1.00" height="4.00" fill="#fff" />
<rect x="606.00" y="457.00" width="1.00" height="4.00" fill="#fff" />
<rect x="608.00" y="457.00" width="1.00" height="4.00" fill="#fff" />
<rect x="607.50" y="455.00" width="2.00" height="1.00" fill="#000" />
<rect x="611.00" y="457.00" width="1.00" height="4.00" fill="#fff" />
<rect x="613.00" y="457.00" width="1.00" height="4.00" fill="#fff" />
<rect x="616.00" y="457.00" width="1.00" height="4.00" fill="#fff" />
<rect x="615.50" y="455.00" width="2.00" height="1.00" fill="#000" />
<rect x="619.00" y="457.00" width="1.00" height="4.00" fill="#fff" />
<rect x="621.00" y="457.00" width="1.00" height="4.00" fill="#fff" />
<rect x="624.00" y="457.00" width="1.00" height="4.00" fill="#fff" />
<rect x="623.50" y="455.00" width="2.00" height="1.00" fill="#000" />
<rect x="626.00" y="457.00" width="1.00" height="4.00" fill="#fff" />
<rect x="629.00" y="457.00" width="1.00" height="4.00" fill="#fff" />
<rect x="632.00" y="457.00" width="1.00" height="4.00" fill="#fff" />
<rect x="631.50" y="455.00" width="2.00" height="1.00" fill="#000" />
<rect x="634.00" y="457.00" width="1.00" height="4.00" fill="#fff" />
<rect x="637.00" y="457.00" width="1.00" height="4.00" fill="#fff" />
<rect x="639.00" y="457.00" width="1.00" height="4.00" fill="#fff" />
<rect x="638.50" y="455.00" width="2.00" height="1.00" fill="#000" />
<rect x="642.00" y="457.00" width="1.00" height="4.00" fill="#fff" />
<rect x="645.00" y="457.00" width="1.00" height="4.00" fill="#fff" />
<rect x="647.00" y="457.00" width="1.00" height="4.00" fill="#fff" />
<rect x="646.50" y="455.00" width="2.00" height="1.00" fill="#000" />
<rect x="650.00" y="457.00" width="1.00" height="4.00" fill="#fff" />
<rect x="652.00" y="457.00" width="1.00" height="4.00" fill="#fff" />
<rect x="655.00" y="457.00" width="1.00" height="4.00" fill="#fff" />
<rect x="654.50" y="455.00" width="2.00" height="1.00" fill="#000" />
<rect x="658.00" y="457.00" width="1.00" height="4.00" fill="#fff" />
<rect x="660.00" y="457.00" width="1.00" height="4.00" fill="#fff" />
<rect x="663.00" y="457.00" width="1.00" height="4.00" fill="#fff" />
<rect x="662.50" y="455.00" width="2.00" height="1.00" fill="#000" />
<rect x="665.00" y="457.00" width="1.00" height="4.00" fill="#fff" />
<rect x="668.00" y="457.00" width="1.00" height="4.00" fill="#fff" />
<rect x="671.00" y="457.00" width="1.00" height="4.00" fill="#fff" />
<rect x="670.50" y="455.00" width="2.00" height="1.00" fill="#000" />
<rect x="673.00" y="457.00" width="1.00" height="4.00" fill="#fff" />
<rect x="676.00" y="457.00" width="1.00" height="4.00" fill="#fff" />
<rect x="560.00" y="462.00" width="9.00" height="5.00" fill="#fff" />
<rect x="682.00" y="456.00" width="10.00" height="8.00" fill="#000" />
<rect x="683.00" y="457.00" width="8.00" height="4.00" fill="#fff" />
<rect x="683.00" y="461.00" width="1.00" height="2.00" fill="#fff" />
<rect x="690.00" y="461.00" width="1.00" height="2.00" fill="#fff" />
<rect x="684.00" y="464.00" width="8.00" height="4.00" fill="#000" />
<rect x="685.00" y="462.00" width="4.00" height="5.00" fill="#fff" />
<rect x="685.00" y="464.00" width="7.00" height="3.00" fill="#fff" />
<rect x="682.00" y="464.00" width="2.00" height="4.00" fill="#fff" />
<rect x="692.00" y="453.00" width="4.00" height="16.00" fill="#000" />
<rect x="696.00" y="456.00" width="7.00" height="1.00" fill="#000" />
<rect x="696.00" y="462.00" width="7.00" height="1.00" fill="#000" />
<rect x="426.00" y="470.00" width="278.00" height="16.00" fill="#000" />
<rect x="427.00" y="471.00" width="276.00" height="14.00" fill="#fff" />
<rect x="427.00" y="473.00" width="7.00" height="1.00" fill="#000" />
<rect x="427.00" y="479.00" width="7.00" height="1.00" fill="#000" />
<rect x="434.00" y="470.00" width="3.00" height="16.00" fill="#000" />
<rect x="437.00" y="473.00" width="10.00" height="8.00" fill="#000" />
<rect x="438.00" y="474.00" width="8.00" height="4.00" fill="#fff" />
<rect x="438.00" y="478.00" width="1.00" height="2.00" fill="#fff" />
<rect x="445.00" y="478.00" width="1.00" height="2.00" fill="#fff" />
<rect x="437.00" y="481.00" width="8.00" height="4.00" fill="#000" />
<rect x="440.00" y="479.00" width="4.00" height="5.00" fill="#fff" />
<rect x="437.00" y="481.00" width="7.00" height="3.00" fill="#fff" />
<rect x="445.00" y="481.00" width="2.00" height="4.00" fill="#fff" />
<rect x="449.00" y="473.00" width="231.00" height="11.00" fill="#000" />
<rect x="452.00" y="474.00" width="1.00" height="4.00" fill="#fff" />
<rect x="451.50" y="472.00" width="2.00" height="1.00" fill="#000" />
<rect x="455.00" y="474.00" width="1.00" height="4.00" fill="#fff" />
<rect x="457.00" y="474.00" width="1.00" height="4.00" fill="#fff" />
<rect x="460.00" y="474.00" width="1.00" height="4.00" fill="#fff" />
<rect x="459.50" y="472.00" width="2.00" height="1.00" fill="#000" />
<rect x="463.00" y="474.00" width="1.00" height="4.00" fill="#fff" />
<rect x="465.00" y="474.00" width="1.00" height="4.00" fill="#fff" />
<rect x="468.00" y="474.00" width="1.00" height="4.00" fill="#fff" />
<rect x="467.50" y="472.00" width="2.00" height="1.00" fill="#000" />
<rect x="470.00" y="474.00" width="1.00" height="4.00" fill="#fff" />
<rect x="473.00" y="474.00" width="1.00" height="4.00" fill="#fff" />
<rect x="476.00" y="474.00" width="1.00" height="4.00" fill="#fff" />
<rect x="475.50" y="472.00" width="2.00" height="1.00" fill="#000" />
<rect x="478.00" y="474.00" width="1.00" height="4.00" fill="#fff" />
<rect x="481.00" y="474.00" width="1.00" height="4.00" fill="#fff" />
<rect x="483.00" y="474.00" width="1.00" height="4.00" fill="#fff" />
<rect x="482.50" y="472.00" width="2.00" height="1.00" fill="#000" />
<rect x="486.00" y="474.00" width="1.00" height="4.00" fill="#fff" />
<rect x="489.00" y="474.00" width="1.00" height="4.00" fill="#fff" />
<rect x="491.00" y="474.00" width="1.00" height="4.00" fill="#fff" />
<rect x="490.50" y="472.00" width="2.00" height="1.00" fill="#000" />
<rect x="494.00" y="474.00" width="1.00" height="4.00" fill="#fff" />
<rect x="496.00" y="474.00" width="1.00" height="4.00" fill="#fff" />
<rect x="499.00" y="474.00" width="1.00" height="4.00" fill="#fff" />
<rect x="498.50" y="472.00" width="2.00" height="1.00" fill="#000" />
<rect x="502.00" y="474.00" width="1.00" height="4.00" fill="#fff" />
<rect x="504.00" y="474.00" width="1.00" height="4.00" fill="#fff" />
<rect x="507.00" y="474.00" width="1.00" height="4.00" fill="#fff" />
<rect x="506.50" y="472.00" width="2.00" height="1.00" fill="#000" />
<rect x="509.00" y="474.00" width="1.00" height="4.00" fill="#fff" />
<rect x="512.00" y="474.00" width="1.00" height="4.00" fill="#fff" />
<rect x="515.00" y="474.00" width="1.00" height="4.00" fill="#fff" />
<rect x="514.50" y="472.00" width="2.00" height="1.00" fill="#000" />
<rect x="517.00" y="474.00" width="1.00" height="4.00" fill="#fff" />
<rect x="520.00" y="474.00" width="1.00" height="4.00" fill="#fff" />
<rect x="522.00" y="474.00" width="1.00" height="4.00" fill="#fff" />
<rect x="521.50" y="472.00" width="2.00" height="1.00" fill="#000" />
<rect x="525.00" y="474.00" width="1.00" height="4.00" fill="#fff" />
<rect x="528.00" y="474.00" width="1.00" height="4.00" fill="#fff" />
<rect x="530.00" y="474.00" width="1.00" height="4.00" fill="#fff" />
<rect x="529.50" y="472.00" width="2.00" height="1.00" fill="#000" />
<rect x="533.00" y="474.00" width="1.00" height="4.00" fill="#fff" />
<rect x="535.00" y="474.00" width="1.00" height="4.00" fill="#fff" />
<rect x="538.00" y="474.00" width="1.00" height="4.00" fill="#fff" />
<rect x="537.50" y="472.00" width="2.00" height="1.00" fill="#000" />
<rect x="541.00" y="474.00" width="1.00" height="4.00" fill="#fff" />
<rect x="543.00" y="474.00" width="1.00" height="4.00" fill="#fff" />
<rect x="546.00" y="474.00" width="1.00" height="4.00" fill="#fff" />
<rect x="545.50" y="472.00" width="2.00" height="1.00" fill="#000" />
<rect x="548.00" y="474.00" width="1.00" height="4.00" fill="#fff" />
<rect x="551.00" y="474.00" width="1.00" height="4.00" fill="#fff" />
<rect x="554.00" y="474.00" width="1.00" height="4.00" fill="#fff" />
<rect x="553.50" y="472.00" width="2.00" height="1.00" fill="#000" />
<rect x="574.00" y="474.00" width="1.00" height="4.00" fill="#fff" />
<rect x="577.00" y="474.00" width="1.00" height="4.00" fill="#fff" />
<rect x="576.50" y="472.00" width="2.00" height="1.00" fill="#000" />
<rect x="580.00" y="474.00" width="1.00" height="4.00" fill="#fff" />
<rect x="582.00" y="474.00" width="1.00" height="4.00" fill="#fff" />
<rect x="585.00" y="474.00" width="1.00" height="4.00" fill="#fff" />
<rect x="584.50" y="472.00" width="2.00" height="1.00" fill="#000" />
<rect x="587.00" y="474.00" width="1.00" height="4.00" fill="#fff" />
<rect x="590.00" y="474.00" width="1.00" height="4.00" fill="#fff" />
<rect x="593.00" y="474.00" width="1.00" height="4.00" fill="#fff" />
<rect x="592.50" y="472.00" width="2.00" height="1.00" fill="#000" />
<rect x="595.00" y="474.00" width="1.00" height="4.00" fill="#fff" />
<rect x="598.00" y="474.00" width="1.00" height="4.00" fill="#fff" />
<rect x="600.00" y="474.00" width="1.00" height="4.00" fill="#fff" />
<rect x="599.50" y="472.00" width="2.00" height="1.00" fill="#000" />
<rect x="603.00" y="474.00" width="1.00" height="4.00" fill="#fff" />
<rect x="606.00" y="474.00" width="1.00" height="4.00" fill="#fff" />
<rect x="608.00" y="474.00" width="1.00" height="4.00" fill="#fff" />
<rect x="607.50" y="472.00" width="2.00" height="1.00" fill="#000" />
<rect x="611.00" y="474.00" width="1.00" height="4.00" fill="#fff" />
<rect x="613.00" y="474.00" width="1.00" height="4.00" fill="#fff" />
<rect x="616.00" y="474.00" width="1.00" height="4.00" fill="#fff" />
<rect x="615.50" y="472.00" width="2.00" height="1.00" fill="#000" />
<rect x="619.00" y="474.00" width="1.00" height="4.00" fill="#fff" />
<rect x="621.00" y="474.00" width="1.00" height="4.00" fill="#fff" />
<rect x="624.00" y="474.00" width="1.00" height="4.00" fill="#fff" />
<rect x="623.50" y="472.00" width="2.00" height="1.00" fill="#000" />
<rect x="626.00" y="474.00" width="1.00" height="4.00" fill="#fff" />
<rect x="629.00" y="474.00" width="1.00" height="4.00" fill="#fff" />
<rect x="632.00" y="474.00" width="1.00" height="4.00" fill="#fff" />
<rect x="631.50" y="472.00" width="2.00" height="1.00" fill="#000" />
<rect x="634.00" y="474.00" width="1.00" height="4.00" fill="#fff" />
<rect x="637.00" y="474.00" width="1.00" height="4.00" fill="#fff" />
<rect x="639.00" y="474.00" width="1.00" height="4.00" fill="#fff" />
<rect x="638.50" y="472.00" width="2.00" height="1.00" fill="#000" />
<rect x="642.00" y="474.00" width="1.00" height="4.00" fill="#fff" />
<rect x="645.00" y="474.00" width="1.00" height="4.00" fill="#fff" />
<rect x="647.00" y="474.00" width="1.00" height="4.00" fill="#fff" />
<rect x="646.50" y="472.00" width="2.00" height="1.00" fill="#000" />
<rect x="650.00" y="474.00" width="1.00" height="4.00" fill="#fff" />
<rect x="652.00" y="474.00" width="1.00" height="4.00" fill="#fff" />
<rect x="655.00" y="474.00" width="1.00" height="4.00" fill="#fff" />
<rect x="654.50" y="472.00" width="2.00" height="1.00" fill="#000" />
<rect x="658.00" y="474.00" width="1.00" height="4.00" fill="#fff" />
<rect x="660.00" y="474.00" width="1.00" height="4.00" fill="#fff" />
<rect x="663.00" y="474.00" width="1.00" height="4.00" fill="#fff" />
<rect x="662.50" y="472.00" width="2.00" height="1.00" fill="#000" />
<rect x="665.00" y="474.00" width="1.00" height="4.00" fill="#fff" />
<rect x="668.00" y="474.00" width="1.00" height="4.00" fill="#fff" />
<rect x="671.00" y="474.00" width="1.00" height="4.00" fill="#fff" />
<rect x="670.50" y="472.00" width="2.00" height="1.00" fill="#000" />
<rect x="673.00" y="474.00" width="1.00" height="4.00" fill="#fff" />
<rect x="676.00" y="474.00" width="1.00" height="4.00" fill="#fff" />
<rect x="560.00" y="472.00" width="9.00" height="5.00" fill="#fff" />
<rect x="682.00" y="473.00" width="10.00" height="8.00" fill="#000" />
<rect x="683.00" y="474.00" width="8.00" height="4.00" fill="#fff" />
<rect x="683.00" y="478.00" width="1.00" height="2.00" fill="#fff" />
<rect x="690.00" y="478.00" width="1.00" height="2.00" fill="#fff" />
<rect x="684.00" y="481.00" width="8.00" height="4.00" fill="#000" />
<rect x="685.00" y="479.00" width="4.00" height="5.00" fill="#fff" />
<rect x="685.00" y="481.00" width="7.00" height="3.00" fill="#fff" />
<rect x="682.00" y="481.00" width="2.00" height="4.00" fill="#fff" />
<rect x="692.00" y="470.00" width="4.00" height="16.00" fill="#000" />
<rect x="696.00" y="473.00" width="7.00" height="1.00" fill="#000" />
<rect x="696.00" y="479.00" width="7.00" height="1.00" fill="#000" />
<rect x="426.00" y="487.00" width="278.00" height="16.00" fill="#000" />
<rect x="427.00" y="488.00" width="276.00" height="14.00" fill="#fff" />
<rect x="427.00" y="490.00" width="7.00" height="1.00" fill="#000" />
<rect x="427.00" y="496.00" width="7.00" height="1.00" fill="#000" />
<rect x="434.00" y="487.00" width="3.00" height="16.00" fill="#000" />
<rect x="437.00" y="490.00" width="10.00" height="8.00" fill="#000" />
<rect x="438.00" y="491.00" width="8.00" height="4.00" fill="#fff" />
<rect x="438.00" y="495.00" width="1.00" height="2.00" fill="#fff" />
<rect x="445.00" y="495.00" width="1.00" height="2.00" fill="#fff" />
<rect x="437.00" y="498.00" width="8.00" height="4.00" fill="#000" />
<rect x="440.00" y="496.00" width="4.00" height="5.00" fill="#fff" />
<rect x="437.00" y="498.00" width="7.00" height="3.00" fill="#fff" />
<rect x="445.00" y="498.00" width="2.00" height="4.00" fill="#fff" />
<rect x="449.00" y="490.00" width="231.00" height="11.00" fill="#000" />
<rect x="452.00" y="491.00" width="1.00" height="4.00" fill="#fff" />
<rect x="451.50" y="489.00" width="2.00" height="1.00" fill="#000" />
<rect x="455.00" y="491.00" width="1.00" height="4.00" fill="#fff" />
<rect x="457.00" y="491.00" width="1.00" height="4.00" fill="#fff" />
<rect x="460.00" y="491.00" width="1.00" height="4.00" fill="#fff" />
<rect x="459.50" y="489.00" width="2.00" height="1.00" fill="#000" />
<rect x="463.00" y="491.00" width="1.00" height="4.00" fill="#fff" />
<rect x="465.00" y="491.00" width="1.00" height="4.00" fill="#fff" />
<rect x="468.00" y="491.00" width="1.00" height="4.00" fill="#fff" />
<rect x="467.50" y="489.00" width="2.00" height="1.00" fill="#000" />
<rect x="470.00" y="491.00" width="1.00" height="4.00" fill="#fff" />
<rect x="473.00" y="491.00" width="1.00" height="4.00" fill="#fff" />
<rect x="476.00" y="491.00" width="1.00" height="4.00" fill="#fff" />
<rect x="475.50" y="489.00" width="2.00" height="1.00" fill="#000" />
<rect x="478.00" y="491.00" width="1.00" height="4.00" fill="#fff" />
<rect x="481.00" y="491.00" width="1.00" height="4.00" fill="#fff" />
<rect x="483.00" y="491.00" width="1.00" height="4.00" fill="#fff" />
<rect x="482.50" y="489.00" width="2.00" height="1.00" fill="#000" />
<rect x="486.00" y="491.00" width="1.00" height="4.00" fill="#fff" />
<rect x="489.00" y="491.00" width="1.00" height="4.00" fill="#fff" />
<rect x="491.00" y="491.00" width="1.00" height="4.00" fill="#fff" />
<rect x="490.50" y="489.00" width="2.00" height="1.00" fill="#000" />
<rect x="494.00" y="491.00" width="1.00" height="4.00" fill="#fff" />
<rect x="496.00" y="491.00" width="1.00" height="4.00" fill="#fff" />
<rect x="499.00" y="491.00" width="1.00" height="4.00" fill="#fff" />
<rect x="498.50" y="489.00" width="2.00" height="1.00" fill="#000" />
<rect x="502.00" y="491.00" width="1.00" height="4.00" fill="#fff" />
<rect x="504.00" y="491.00" width="1.00" height="4.00" fill="#fff" />
<rect x="507.00" y="491.00" width="1.00" height="4.00" fill="#fff" />
<rect x="506.50" y="489.00" width="2.00" height="1.00" fill="#000" />
<rect x="509.00" y="491.00" width="1.00" height="4.00" fill="#fff" />
<rect x="512.00" y="491.00" width="1.00" height="4.00" fill="#fff" />
<rect x="515.00" y="491.00" width="1.00" height="4.00" fill="#fff" />
<rect x="514.50" y="489.00" width="2.00" height="1.00" fill="#000" />
<rect x="517.00" y="491.00" width="1.00" height="4.00" fill="#fff" />
<rect x="520.00" y="491.00" width="1.00" height="4.00" fill="#fff" />
<rect x="522.00" y="491.00" width="1.00" height="4.00" fill="#fff" />
<rect x="521.50" y="489.00" width="2.00" height="1.00" fill="#000" />
<rect x="525.00" y="491.00" width="1.00" height="4.00" fill="#fff" />
<rect x="528.00" y="491.00" width="1.00" height="4.00" fill="#fff" />
<rect x="530.00" y="491.00" width="1.00" height="4.00" fill="#fff" />
<rect x="529.50" y="489.00" width="2.00" height="1.00" fill="#000" />
<rect x="533.00" y="491.00" width="1.00" height="4.00" fill="#fff" />
<rect x="535.00" y="491.00" width="1.00" height="4.00" fill="#fff" />
<rect x="538.00" y="491.00" width="1.00" height="4.00" fill="#fff" />
<rect x="537.50" y="489.00" width="2.00" height="1.00" fill="#000" />
<rect x="541.00" y="491.00" width="1.00" height="4.00" fill="#fff" />
<rect x="543.00" y="491.00" width="1.00" height="4.00" fill="#fff" />
<rect x="546.00" y="491.00" width="1.00" height="4.00" fill="#fff" />
<rect x="545.50" y="489.00" width="2.00" height="1.00" fill="#000" />
<rect x="548.00" y="491.00" width="1.00" height="4.00" fill="#fff" />
<rect x="551.00" y="491.00" width="1.00" height="4.00" fill="#fff" />
<rect x="554.00" y="491.00" width="1.00" height="4.00" fill="#fff" />
<rect x="553.50" y="489.00" width="2.00" height="1.00" fill="#000" />
<rect x="574.00" y="491.00" width="1.00" height="4.00" fill="#fff" />
<rect x="577.00" y="491.00" width="1.00" height="4.00" fill="#fff" />
<rect x="576.50" y="489.00" width="2.00" height="1.00" fill="#000" />
<rect x="580.00" y="491.00" width="1.00" height="4.00" fill="#fff" />
<rect x="582.00" y="491.00" width="1.00" height="4.00" fill="#fff" />
<rect x="585.00" y="491.00" width="1.00" height="4.00" fill="#fff" />
<rect x="584.50" y="489.00" width="2.00" height="1.00" fill="#000" />
<rect x="587.00" y="491.00" width="1.00" height="4.00" fill="#fff" />
<rect x="590.00" y="491.00" width="1.00" height="4.00" fill="#fff" />
<rect x="593.00" y="491.00" width="1.00" height="4.00" fill="#fff" />
<rect x="592.50" y="489.00" width="2.00" height="1.00" fill="#000" />
<rect x="595.00" y="491.00" width="1.00" height="4.00" fill="#fff" />
<rect x="598.00" y="491.00" width="1.00" height="4.00" fill="#fff" />
<rect x="600.00" y="491.00" width="1.00" height="4.00" fill="#fff" />
<rect x="599.50" y="489.00" width="2.00" height="1.00" fill="#000" />
<rect x="603.00" y="491.00" width="1.00" height="4.00" fill="#fff" />
<rect x="606.00" y="491.00" width="1.00" height="4.00" fill="#fff" />
<rect x="608.00" y="491.00" width="1.00" height="4.00" fill="#fff" />
<rect x="607.50" y="489.00" width="2.00" height="1.00" fill="#000" />
<rect x="611.00" y="491.00" width="1.00" height="4.00" fill="#fff" />
<rect x="613.00" y="491.00" width="1.00" height="4.00" fill="#fff" />
<rect x="616.00" y="491.00" width="1.00" height="4.00" fill="#fff" />
<rect x="615.50" y="489.00" width="2.00" height="1.00" fill="#000" />
<rect x="619.00" y="491.00" width="1.00" height="4.00" fill="#fff" />
<rect x="621.00" y="491.00" width="1.00" height="4.00" fill="#fff" />
<rect x="624.00" y="491.00" width="1.00" height="4.00" fill="#fff" />
<rect x="623.50" y="489.00" width="2.00" height="1.00" fill="#000" />
<rect x="626.00" y="491.00" width="1.00" height="4.00" fill="#fff" />
<rect x="629.00" y="491.00" width="1.00" height="4.00" fill="#fff" />
<rect x="632.00" y="491.00" width="1.00" height="4.00" fill="#fff" />
<rect x="631.50" y="489.00" width="2.00" height="1.00" fill="#000" />
<rect x="634.00" y="491.00" width="1.00" height="4.00" fill="#fff" />
<rect x="637.00" y="491.00" width="1.00" height="4.00" fill="#fff" />
<rect x="639.00" y="491.00" width="1.00" height="4.00" fill="#fff" />
<rect x="638.50" y="489.00" width="2.00" height="1.00" fill="#000" />
<rect x="642.00" y="491.00" width="1.00" height="4.00" fill="#fff" />
<rect x="645.00" y="491.00" width="1.00" height="4.00" fill="#fff" />
<rect x="647.00" y="491.00" width="1.00" height="4.00" fill="#fff" />
<rect x="646.50" y="489.00" width="2.00" height="1.00" fill="#000" />
<rect x="650.00" y="491.00" width="1.00" height="4.00" fill="#fff" />
<rect x="652.00" y="491.00" width="1.00" height="4.00" fill="#fff" />
<rect x="655.00" y="491.00" width="1.00" height="4.00" fill="#fff" />
<rect x="654.50" y="489.00" width="2.00" height="1.00" fill="#000" />
<rect x="658.00" y="491.00" width="1.00" height="4.00" fill="#fff" />
<rect x="660.00" y="491.00" width="1.00" height="4.00" fill="#fff" />
<rect x="663.00" y="491.00" width="1.00" height="4.00" fill="#fff" />
<rect x="662.50" y="489.00" width="2.00" height="1.00" fill="#000" />
<rect x="665.00" y="491.00" width="1.00" height="4.00" fill="#fff" />
<rect x="668.00" y="491.00" width="1.00" height="4.00" fill="#fff" />
<rect x="671.00" y="491.00" width="1.00" height="4.00" fill="#fff" />
<rect x="670.50" y="489.00" width="2.00" height="1.00" fill="#000" />
<rect x="673.00" y="491.00" width="1.00" height="4.00" fill="#fff" />
<rect x="676.00" y="491.00" width="1.00" height="4.00" fill="#fff" />
<rect x="560.00" y="496.00" width="9.00" height="5.00" fill="#fff" />
<rect x="682.00" y="490.00" width="10.00" height="8.00" fill="#000" />
<rect x="683.00" y="491.00" width="8.00" height="4.00" fill="#fff" />
<rect x="683.00" y="495.00" width="1.00" height="2.00" fill="#fff" />
<rect x="690.00" y="495.00" width="1.00" height="2.00" fill="#fff" />
<rect x="684.00" y="498.00" width="8.00" height="4.00" fill="#000" />
<rect x="685.00" y="496.00" width="4.00" height="5.00" fill="#fff" />
<rect x="685.00" y="498.00" width="7.00" height="3.00" fill="#fff" />
<rect x="682.00" y="498.00" width="2.00" height="4.00" fill="#fff" />
<rect x="692.00" y="487.00" width="4.00" height="16.00" fill="#000" />
<rect x="696.00" y="490.00" width="7.00" height="1.00" fill="#000" />
<rect x="696.00" y="496.00" width="7.00" height="1.00" fill="#000" />
<rect x="453.00" y="370.00" width="119.00" height="13.00" fill="#000" />
<rect x="454.00" y="371.00" width="1.00" height="11.00" fill="#fff" />
<rect x="454.00" y="381.00" width="117.00" height="1.00" fill="#fff" />
<rect x="570.00" y="371.00" width="1.00" height="11.00" fill="#fff" />
<rect x="459.55" y="371.00" width="1.70" height="11.00" fill="#fff" />
<rect x="465.40" y="371.00" width="1.70" height="11.00" fill="#fff" />
<rect x="471.25" y="371.00" width="1.70" height="11.00" fill="#fff" />
<rect x="477.10" y="371.00" width="1.70" height="11.00" fill="#fff" />
<rect x="482.95" y="371.00" width="1.70" height="11.00" fill="#fff" />
<rect x="488.80" y="371.00" width="1.70" height="11.00" fill="#fff" />
<rect x="494.65" y="371.00" width="1.70" height="11.00" fill="#fff" />
<rect x="500.50" y="371.00" width="1.70" height="11.00" fill="#fff" />
<rect x="506.35" y="371.00" width="1.70" height="11.00" fill="#fff" />
<rect x="512.20" y="371.00" width="1.70" height="11.00" fill="#fff" />
<rect x="518.05" y="371.00" width="1.70" height="11.00" fill="#fff" />
<rect x="523.90" y="371.00" width="1.70" height="11.00" fill="#fff" />
<rect x="529.75" y="371.00" width="1.70" height="11.00" fill="#fff" />
<rect x="535.60" y="371.00" width="1.70" height="11.00" fill="#fff" />
<rect x="541.45" y="371.00" width="1.70" height="11.00" fill="#fff" />
<rect x="547.30" y="371.00" width="1.70" height="11.00" fill="#fff" />
<rect x="553.15" y="371.00" width="1.70" height="11.00" fill="#fff" />
<rect x="559.00" y="371.00" width="1.70" height="11.00" fill="#fff" />
<rect x="564.85" y="371.00" width="1.70" height="11.00" fill="#fff" />
<rect x="454.00" y="376.00" width="117.00" height="1.00" fill="#fff" />
<rect x="567.00" y="372.00" width="2.00" height="3.00" fill="#fff" />
<rect x="453.00" y="398.00" width="119.00" height="12.00" fill="#000" />
<rect x="454.00" y="399.00" width="1.00" height="10.00" fill="#fff" />
<rect x="570.00" y="399.00" width="1.00" height="10.00" fill="#fff" />
<rect x="459.55" y="399.00" width="1.70" height="10.00" fill="#fff" />
<rect x="465.40" y="399.00" width="1.70" height="10.00" fill="#fff" />
<rect x="471.25" y="399.00" width="1.70" height="10.00" fill="#fff" />
<rect x="477.10" y="399.00" width="1.70" height="10.00" fill="#fff" />
<rect x="482.95" y="399.00" width="1.70" height="10.00" fill="#fff" />
<rect x="488.80" y="399.00" width="1.70" height="10.00" fill="#fff" />
<rect x="494.65" y="399.00" width="1.70" height="10.00" fill="#fff" />
<rect x="500.50" y="399.00" width="1.70" height="10.00" fill="#fff" />
<rect x="506.35" y="399.00" width="1.70" height="10.00" fill="#fff" />
<rect x="512.20" y="399.00" width="1.70" height="10.00" fill="#fff" />
<rect x="518.05" y="399.00" width="1.70" height="10.00" fill="#fff" />
<rect x="523.90" y="399.00" width="1.70" height="10.00" fill="#fff" />
<rect x="529.75" y="399.00" width="1.70" height="10.00" fill="#fff" />
<rect x="535.60" y="399.00" width="1.70" height="10.00" fill="#fff" />
<rect x="541.45" y="399.00" width="1.70" height="10.00" fill="#fff" />
<rect x="547.30" y="399.00" width="1.70" height="10.00" fill="#fff" />
<rect x="553.15" y="399.00" width="1.70" height="10.00" fill="#fff" />
<rect x="559.00" y="399.00" width="1.70" height="10.00" fill="#fff" />
<rect x="564.85" y="399.00" width="1.70" height="10.00" fill="#fff" />
<rect x="454.00" y="404.00" width="117.00" height="1.00" fill="#fff" />
<rect x="567.00" y="400.00" width="2.00" height="3.00" fill="#fff" />
<rect x="585.00" y="370.00" width="78.00" height="13.00" fill="#000" />
<rect x="586.00" y="371.00" width="1.00" height="11.00" fill="#fff" />
<rect x="586.00" y="381.00" width="76.00" height="1.00" fill="#fff" />
<rect x="661.00" y="371.00" width="1.00" height="11.00" fill="#fff" />
<rect x="591.55" y="371.00" width="1.70" height="11.00" fill="#fff" />
<rect x="597.39" y="371.00" width="1.70" height="11.00" fill="#fff" />
<rect x="603.24" y="371.00" width="1.70" height="11.00" fill="#fff" />
<rect x="609.08" y="371.00" width="1.70" height="11.00" fill="#fff" />
<rect x="614.93" y="371.00" width="1.70" height="11.00" fill="#fff" />
<rect x="620.78" y="371.00" width="1.70" height="11.00" fill="#fff" />
<rect x="626.62" y="371.00" width="1.70" height="11.00" fill="#fff" />
<rect x="632.47" y="371.00" width="1.70" height="11.00" fill="#fff" />
<rect x="638.32" y="371.00" width="1.70" height="11.00" fill="#fff" />
<rect x="644.16" y="371.00" width="1.70" height="11.00" fill="#fff" />
<rect x="650.01" y="371.00" width="1.70" height="11.00" fill="#fff" />
<rect x="655.85" y="371.00" width="1.70" height="11.00" fill="#fff" />
<rect x="586.00" y="376.00" width="76.00" height="1.00" fill="#fff" />
<rect x="658.00" y="372.00" width="2.00" height="3.00" fill="#fff" />
<rect x="585.00" y="398.00" width="101.00" height="12.00" fill="#000" />
<rect x="586.00" y="399.00" width="1.00" height="10.00" fill="#fff" />
<rect x="684.00" y="399.00" width="1.00" height="10.00" fill="#fff" />
<rect x="591.52" y="399.00" width="1.70" height="10.00" fill="#fff" />
<rect x="597.35" y="399.00" width="1.70" height="10.00" fill="#fff" />
<rect x="603.17" y="399.00" width="1.70" height="10.00" fill="#fff" />
<rect x="608.99" y="399.00" width="1.70" height="10.00" fill="#fff" />
<rect x="614.82" y="399.00" width="1.70" height="10.00" fill="#fff" />
<rect x="620.64" y="399.00" width="1.70" height="10.00" fill="#fff" />
<rect x="626.46" y="399.00" width="1.70" height="10.00" fill="#fff" />
<rect x="632.29" y="399.00" width="1.70" height="10.00" fill="#fff" />
<rect x="638.11" y="399.00" width="1.70" height="10.00" fill="#fff" />
<rect x="643.94" y="399.00" width="1.70" height="10.00" fill="#fff" />
<rect x="649.76" y="399.00" width="1.70" height="10.00" fill="#fff" />
<rect x="655.58" y="399.00" width="1.70" height="10.00" fill="#fff" />
<rect x="661.41" y="399.00" width="1.70" height="10.00" fill="#fff" />
<rect x="667.23" y="399.00" width="1.70" height="10.00" fill="#fff" />
<rect x="673.05" y="399.00" width="1.70" height="10.00" fill="#fff" />
<rect x="678.88" y="399.00" width="1.70" height="10.00" fill="#fff" />
<rect x="586.00" y="404.00" width="99.00" height="1.00" fill="#fff" />
<rect x="681.00" y="400.00" width="2.00" height="3.00" fill="#fff" />
<rect x="738.00" y="257.00" width="30.00" height="13.00" fill="#000" />
<rect x="739.00" y="258.00" width="1.00" height="11.00" fill="#fff" />
<rect x="766.00" y="258.00" width="1.00" height="11.00" fill="#fff" />
<rect x="744.30" y="258.00" width="1.70" height="11.00" fill="#fff" />
<rect x="749.90" y="258.00" width="1.70" height="11.00" fill="#fff" />
<rect x="755.50" y="258.00" width="1.70" height="11.00" fill="#fff" />
<rect x="761.10" y="258.00" width="1.70" height="11.00" fill="#fff" />
<rect x="739.00" y="263.00" width="28.00" height="1.00" fill="#fff" />
<rect x="763.00" y="259.00" width="2.00" height="3.00" fill="#fff" />
<rect x="738.00" y="292.00" width="30.00" height="12.00" fill="#000" />
<rect x="739.00" y="293.00" width="1.00" height="10.00" fill="#fff" />
<rect x="739.00" y="302.00" width="28.00" height="1.00" fill="#fff" />
<rect x="766.00" y="293.00" width="1.00" height="10.00" fill="#fff" />
<rect x="744.30" y="293.00" width="1.70" height="10.00" fill="#fff" />
<rect x="749.90" y="293.00" width="1.70" height="10.00" fill="#fff" />
<rect x="755.50" y="293.00" width="1.70" height="10.00" fill="#fff" />
<rect x="761.10" y="293.00" width="1.70" height="10.00" fill="#fff" />
<rect x="739.00" y="298.00" width="28.00" height="1.00" fill="#fff" />
<rect x="763.00" y="294.00" width="2.00" height="3.00" fill="#fff" />
<rect x="709.00" y="412.00" width="24.30" height="108.00" fill="#000" />
<rect x="710.00" y="412.00" width="22.30" height="107.00" fill="#fff" />
<rect x="712.00" y="413.67" width="7.00" height="7.50" fill="#000" />
<rect x="713.00" y="414.67" width="5.00" height="5.50" fill="#fff" />
<rect x="712.00" y="423.00" width="7.00" height="7.50" fill="#000" />
<rect x="713.00" y="424.00" width="5.00" height="5.50" fill="#fff" />
<rect x="712.00" y="432.33" width="7.00" height="7.50" fill="#000" />
<rect x="713.00" y="433.33" width="5.00" height="5.50" fill="#fff" />
<rect x="712.00" y="441.66" width="7.00" height="7.50" fill="#000" />
<rect x="713.00" y="442.66" width="5.00" height="5.50" fill="#fff" />
<rect x="712.00" y="450.99" width="7.00" height="7.50" fill="#000" />
<rect x="713.00" y="451.99" width="5.00" height="5.50" fill="#fff" />
<rect x="712.00" y="460.32" width="7.00" height="7.50" fill="#000" />
<rect x="713.00" y="461.32" width="5.00" height="5.50" fill="#fff" />
<rect x="712.00" y="469.65" width="7.00" height="7.50" fill="#000" />
<rect x="713.00" y="470.65" width="5.00" height="5.50" fill="#fff" />
<rect x="712.00" y="478.98" width="7.00" height="7.50" fill="#000" />
<rect x="713.00" y="479.98" width="5.00" height="5.50" fill="#fff" />
<rect x="712.00" y="488.31" width="7.00" height="7.50" fill="#000" />
<rect x="713.00" y="489.31" width="5.00" height="5.50" fill="#fff" />
<rect x="712.00" y="497.64" width="7.00" height="7.50" fill="#000" />
<rect x="713.00" y="498.64" width="5.00" height="5.50" fill="#fff" />
<rect x="712.00" y="506.97" width="7.00" height="7.50" fill="#000" />
<rect x="713.00" y="507.97" width="5.00" height="5.50" fill="#fff" />
<rect x="720.30" y="410.15" width="2.70" height="6.50" fill="#000" />
<rect x="726.30" y="410.35" width="2.00" height="6.40" fill="#000" />
<rect x="727.00" y="411.15" width="3.00" height="4.60" fill="#000" />
<rect x="728.00" y="410.55" width="1.30" height="5.80" fill="#000" />
<rect x="720.30" y="419.30" width="2.70" height="6.50" fill="#000" />
<rect x="726.30" y="419.50" width="2.00" height="6.40" fill="#000" />
<rect x="727.00" y="420.30" width="3.00" height="4.60" fill="#000" />
<rect x="728.00" y="419.70" width="1.30" height="5.80" fill="#000" />
<rect x="720.30" y="428.45" width="2.70" height="6.50" fill="#000" />
<rect x="726.30" y="428.65" width="2.00" height="6.40" fill="#000" />
<rect x="727.00" y="429.45" width="3.00" height="4.60" fill="#000" />
<rect x="728.00" y="428.85" width="1.30" height="5.80" fill="#000" />
<rect x="720.30" y="437.60" width="2.70" height="6.50" fill="#000" />
<rect x="726.30" y="437.80" width="2.00" height="6.40" fill="#000" />
<rect x="727.00" y="438.60" width="3.00" height="4.60" fill="#000" />
<rect x="728.00" y="438.00" width="1.30" height="5.80" fill="#000" />
<rect x="720.30" y="446.75" width="2.70" height="6.50" fill="#000" />
<rect x="726.30" y="446.95" width="2.00" height="6.40" fill="#000" />
<rect x="727.00" y="447.75" width="3.00" height="4.60" fill="#000" />
<rect x="728.00" y="447.15" width="1.30" height="5.80" fill="#000" />
<rect x="720.30" y="455.90" width="2.70" height="6.50" fill="#000" />
<rect x="726.30" y="456.10" width="2.00" height="6.40" fill="#000" />
<rect x="727.00" y="456.90" width="3.00" height="4.60" fill="#000" />
<rect x="728.00" y="456.30" width="1.30" height="5.80" fill="#000" />
<rect x="720.30" y="465.05" width="2.70" height="6.50" fill="#000" />
<rect x="726.30" y="465.25" width="2.00" height="6.40" fill="#000" />
<rect x="727.00" y="466.05" width="3.00" height="4.60" fill="#000" />
<rect x="728.00" y="465.45" width="1.30" height="5.80" fill="#000" />
<rect x="720.30" y="474.20" width="2.70" height="6.50" fill="#000" />
<rect x="726.30" y="474.40" width="2.00" height="6.40" fill="#000" />
<rect x="727.00" y="475.20" width="3.00" height="4.60" fill="#000" />
<rect x="728.00" y="474.60" width="1.30" height="5.80" fill="#000" />
<rect x="720.30" y="483.35" width="2.70" height="6.50" fill="#000" />
<rect x="726.30" y="483.55" width="2.00" height="6.40" fill="#000" />
<rect x="727.00" y="484.35" width="3.00" height="4.60" fill="#000" />
<rect x="728.00" y="483.75" width="1.30" height="5.80" fill="#000" />
<rect x="720.30" y="492.50" width="2.70" height="6.50" fill="#000" />
<rect x="726.30" y="492.70" width="2.00" height="6.40" fill="#000" />
<rect x="727.00" y="493.50" width="3.00" height="4.60" fill="#000" />
<rect x="728.00" y="492.90" width="1.30" height="5.80" fill="#000" />
<rect x="720.30" y="501.65" width="2.70" height="6.50" fill="#000" />
<rect x="726.30" y="501.85" width="2.00" height="6.40" fill="#000" />
<rect x="727.00" y="502.65" width="3.00" height="4.60" fill="#000" />
<rect x="728.00" y="502.05" width="1.30" height="5.80" fill="#000" />
<rect x="720.30" y="510.80" width="2.70" height="6.50" fill="#000" />
<rect x="726.30" y="511.00" width="2.00" height="6.40" fill="#000" />
<rect x="727.00" y="511.80" width="3.00" height="4.60" fill="#000" />
<rect x="728.00" y="511.20" width="1.30" height="5.80" fill="#000" />
<rect x="726.30" y="412.00" width="1.20" height="107.00" fill="#000" />
<path d="M726.9 412 V519" stroke="#fff" stroke-width="1.3" stroke-dasharray="1.3 7.85" stroke-dashoffset="-14.2"/>
<path d="M712.5 520.4 L715 517.4 L717.5 520.4 Z" fill="#fff"/>
<rect x="713.00" y="518.00" width="1.00" height="1.00" fill="#000" />
<rect x="716.00" y="518.00" width="2.00" height="1.00" fill="#000" />
<rect x="750.00" y="448.00" width="32.00" height="38.00" fill="#000" />
<rect x="748.00" y="455.00" width="2.00" height="24.00" fill="#000" />
<rect x="774.00" y="444.00" width="8.00" height="46.00" fill="#000" />
<rect x="777.00" y="442.00" width="5.00" height="50.00" fill="#000" />
<rect x="744.00" y="457.00" width="4.50" height="8.30" fill="#000" />
<rect x="745.00" y="458.00" width="2.50" height="6.30" fill="#fff" />
<rect x="744.00" y="468.40" width="4.50" height="8.40" fill="#000" />
<rect x="745.00" y="469.40" width="2.50" height="6.40" fill="#fff" />
<rect x="749.00" y="464.40" width="2.00" height="4.60" fill="#fff" />
<rect x="25.00" y="24.00" width="14.00" height="7.00" fill="#000" />
<rect x="26.00" y="25.00" width="1.00" height="4.00" fill="#fff" />
<rect x="32.00" y="25.00" width="1.00" height="4.00" fill="#fff" />
<rect x="37.00" y="25.00" width="1.00" height="4.00" fill="#fff" />
<rect x="26.00" y="29.00" width="1.00" height="1.00" fill="#fff" />
<rect x="32.00" y="29.00" width="1.00" height="1.00" fill="#fff" />
<rect x="37.00" y="29.00" width="1.00" height="1.00" fill="#fff" />
<rect x="25.00" y="38.00" width="14.00" height="7.00" fill="#000" />
<rect x="26.00" y="39.00" width="1.00" height="4.00" fill="#fff" />
<rect x="32.00" y="39.00" width="1.00" height="4.00" fill="#fff" />
<rect x="37.00" y="39.00" width="1.00" height="4.00" fill="#fff" />
<rect x="26.00" y="43.00" width="12.00" height="1.00" fill="#fff" />
<rect x="19.00" y="61.00" width="31.00" height="7.00" fill="#000" />
<rect x="20.00" y="62.00" width="1.00" height="4.00" fill="#fff" />
<rect x="26.00" y="62.00" width="1.00" height="4.00" fill="#fff" />
<rect x="31.00" y="62.00" width="1.00" height="4.00" fill="#fff" />
<rect x="37.00" y="62.00" width="1.00" height="4.00" fill="#fff" />
<rect x="43.00" y="62.00" width="1.00" height="4.00" fill="#fff" />
<rect x="48.00" y="62.00" width="1.00" height="4.00" fill="#fff" />
<rect x="20.00" y="66.00" width="29.00" height="1.00" fill="#fff" />
<rect x="45.00" y="63.00" width="2.00" height="2.00" fill="#fff" />
<rect x="19.00" y="73.00" width="26.00" height="7.00" fill="#000" />
<rect x="20.00" y="74.00" width="1.00" height="4.00" fill="#fff" />
<rect x="26.00" y="74.00" width="1.00" height="4.00" fill="#fff" />
<rect x="31.00" y="74.00" width="1.00" height="4.00" fill="#fff" />
<rect x="37.00" y="74.00" width="1.00" height="4.00" fill="#fff" />
<rect x="43.00" y="74.00" width="1.00" height="4.00" fill="#fff" />
<rect x="20.00" y="78.00" width="24.00" height="1.00" fill="#fff" />
<rect x="39.00" y="75.00" width="3.00" height="2.00" fill="#fff" />
<rect x="139.00" y="71.00" width="19.00" height="7.00" fill="#000" />
<rect x="145.00" y="72.00" width="1.00" height="4.00" fill="#fff" />
<rect x="151.00" y="72.00" width="1.00" height="4.00" fill="#fff" />
<rect x="156.00" y="72.00" width="1.00" height="4.00" fill="#fff" />
<rect x="140.00" y="76.00" width="17.00" height="1.00" fill="#fff" />
<rect x="153.00" y="73.00" width="2.00" height="2.00" fill="#fff" />
<rect x="13.00" y="87.00" width="6.00" height="26.00" fill="#000" />
<rect x="14.00" y="88.00" width="4.00" height="2.00" fill="#fff" />
<rect x="14.00" y="94.00" width="4.00" height="1.00" fill="#fff" />
<rect x="14.00" y="100.00" width="4.00" height="1.00" fill="#fff" />
<rect x="14.00" y="105.00" width="4.00" height="2.00" fill="#fff" />
<rect x="14.50" y="107.50" width="3.00" height="3.00" fill="#fff" />
<rect x="15.50" y="108.50" width="1.00" height="1.00" fill="#000" />
<rect x="14.00" y="111.00" width="4.00" height="1.00" fill="#fff" />
<rect x="13.00" y="121.00" width="6.00" height="13.00" fill="#000" />
<rect x="14.00" y="127.00" width="4.00" height="1.00" fill="#fff" />
<rect x="14.00" y="132.00" width="4.00" height="1.00" fill="#fff" />
<rect x="177.00" y="138.00" width="7.00" height="13.00" fill="#000" />
<rect x="178.00" y="139.00" width="5.00" height="1.00" fill="#fff" />
<rect x="178.00" y="143.00" width="5.00" height="2.00" fill="#fff" />
<rect x="92.00" y="162.00" width="14.00" height="24.00" fill="#000" />
<rect x="93.00" y="163.00" width="1.00" height="4.00" fill="#fff" />
<rect x="93.00" y="169.00" width="1.00" height="4.00" fill="#fff" />
<rect x="93.00" y="175.00" width="1.00" height="4.00" fill="#fff" />
<rect x="93.00" y="181.00" width="1.00" height="4.00" fill="#fff" />
<rect x="98.00" y="163.00" width="1.00" height="4.00" fill="#fff" />
<rect x="98.00" y="169.00" width="1.00" height="4.00" fill="#fff" />
<rect x="98.00" y="175.00" width="1.00" height="4.00" fill="#fff" />
<rect x="98.00" y="181.00" width="1.00" height="4.00" fill="#fff" />
<rect x="104.00" y="163.00" width="1.00" height="4.00" fill="#fff" />
<rect x="104.00" y="169.00" width="1.00" height="4.00" fill="#fff" />
<rect x="104.00" y="175.00" width="1.00" height="4.00" fill="#fff" />
<rect x="104.00" y="181.00" width="1.00" height="4.00" fill="#fff" />
<rect x="93.00" y="168.00" width="12.00" height="1.00" fill="#fff" />
<rect x="306.00" y="138.00" width="13.00" height="37.00" fill="#000" />
<rect x="307.00" y="139.00" width="1.00" height="35.00" fill="#fff" />
<rect x="308.00" y="144.00" width="4.00" height="1.00" fill="#fff" />
<rect x="313.00" y="144.00" width="5.00" height="1.00" fill="#fff" />
<rect x="308.00" y="150.00" width="4.00" height="1.00" fill="#fff" />
<rect x="313.00" y="150.00" width="5.00" height="1.00" fill="#fff" />
<rect x="308.00" y="156.00" width="4.00" height="1.00" fill="#fff" />
<rect x="313.00" y="156.00" width="5.00" height="1.00" fill="#fff" />
<rect x="308.00" y="162.00" width="4.00" height="1.00" fill="#fff" />
<rect x="313.00" y="162.00" width="5.00" height="1.00" fill="#fff" />
<rect x="308.00" y="168.00" width="4.00" height="1.00" fill="#fff" />
<rect x="313.00" y="168.00" width="5.00" height="1.00" fill="#fff" />
<rect x="309.00" y="152.00" width="3.00" height="3.00" fill="#fff" />
<rect x="310.00" y="153.00" width="1.00" height="1.00" fill="#000" />
<rect x="309.00" y="170.00" width="3.00" height="3.00" fill="#fff" />
<rect x="314.00" y="152.00" width="3.00" height="3.00" fill="#fff" />
<rect x="315.00" y="153.00" width="1.00" height="1.00" fill="#000" />
<rect x="314.00" y="170.00" width="3.00" height="3.00" fill="#fff" />
<rect x="382.00" y="69.00" width="6.00" height="19.00" fill="#000" />
<rect x="388.00" y="74.00" width="6.00" height="14.00" fill="#000" />
<rect x="389.00" y="75.00" width="4.00" height="5.00" fill="#fff" />
<rect x="389.00" y="81.00" width="4.00" height="6.00" fill="#fff" />
<rect x="383.00" y="75.00" width="4.00" height="1.00" fill="#fff" />
<rect x="383.00" y="80.00" width="4.00" height="1.00" fill="#fff" />
<rect x="384.00" y="82.00" width="3.00" height="3.00" fill="#fff" />
<rect x="385.00" y="83.00" width="1.00" height="1.00" fill="#000" />
<rect x="383.00" y="86.00" width="4.00" height="1.00" fill="#fff" />
<rect x="382.00" y="93.00" width="12.00" height="19.00" fill="#000" />
<rect x="383.00" y="99.00" width="4.00" height="1.00" fill="#fff" />
<rect x="383.00" y="104.00" width="4.00" height="1.00" fill="#fff" />
<rect x="383.50" y="106.00" width="3.00" height="3.00" fill="#fff" />
<rect x="384.50" y="107.00" width="1.00" height="1.00" fill="#000" />
<rect x="383.00" y="110.00" width="4.00" height="1.00" fill="#fff" />
<rect x="389.00" y="99.00" width="4.00" height="1.00" fill="#fff" />
<rect x="389.00" y="104.00" width="4.00" height="1.00" fill="#fff" />
<rect x="389.50" y="106.00" width="3.00" height="3.00" fill="#fff" />
<rect x="390.50" y="107.00" width="1.00" height="1.00" fill="#000" />
<rect x="389.00" y="110.00" width="4.00" height="1.00" fill="#fff" />
<rect x="210.00" y="250.00" width="18.00" height="19.00" fill="#000" />
<rect x="216.00" y="251.00" width="1.00" height="17.00" fill="#fff" />
<rect x="222.00" y="251.00" width="1.00" height="17.00" fill="#fff" />
<rect x="211.00" y="256.00" width="4.00" height="1.00" fill="#fff" />
<rect x="211.00" y="262.00" width="4.00" height="1.00" fill="#fff" />
<rect x="211.00" y="267.00" width="4.00" height="1.00" fill="#fff" />
<rect x="212.00" y="264.00" width="3.00" height="3.00" fill="#fff" />
<rect x="213.00" y="265.00" width="1.00" height="1.00" fill="#000" />
<rect x="217.00" y="256.00" width="4.00" height="1.00" fill="#fff" />
<rect x="217.00" y="262.00" width="4.00" height="1.00" fill="#fff" />
<rect x="217.00" y="267.00" width="4.00" height="1.00" fill="#fff" />
<rect x="218.00" y="264.00" width="3.00" height="3.00" fill="#fff" />
<rect x="219.00" y="265.00" width="1.00" height="1.00" fill="#000" />
<rect x="223.00" y="256.00" width="4.00" height="1.00" fill="#fff" />
<rect x="223.00" y="262.00" width="4.00" height="1.00" fill="#fff" />
<rect x="223.00" y="267.00" width="4.00" height="1.00" fill="#fff" />
<rect x="224.00" y="264.00" width="3.00" height="3.00" fill="#fff" />
<rect x="225.00" y="265.00" width="1.00" height="1.00" fill="#000" />
<rect x="401.00" y="270.00" width="25.00" height="19.00" fill="#000" />
<rect x="402.00" y="271.00" width="1.00" height="17.00" fill="#fff" />
<rect x="408.00" y="271.00" width="1.00" height="17.00" fill="#fff" />
<rect x="414.00" y="271.00" width="1.00" height="17.00" fill="#fff" />
<rect x="403.00" y="276.00" width="4.00" height="1.00" fill="#fff" />
<rect x="403.00" y="282.00" width="4.00" height="1.00" fill="#fff" />
<rect x="403.00" y="287.00" width="4.00" height="1.00" fill="#fff" />
<rect x="404.00" y="284.00" width="3.00" height="3.00" fill="#fff" />
<rect x="405.00" y="285.00" width="1.00" height="1.00" fill="#000" />
<rect x="409.00" y="276.00" width="4.00" height="1.00" fill="#fff" />
<rect x="409.00" y="282.00" width="4.00" height="1.00" fill="#fff" />
<rect x="409.00" y="287.00" width="4.00" height="1.00" fill="#fff" />
<rect x="410.00" y="284.00" width="3.00" height="3.00" fill="#fff" />
<rect x="411.00" y="285.00" width="1.00" height="1.00" fill="#000" />
<rect x="415.00" y="276.00" width="4.00" height="1.00" fill="#fff" />
<rect x="415.00" y="282.00" width="4.00" height="1.00" fill="#fff" />
<rect x="415.00" y="287.00" width="4.00" height="1.00" fill="#fff" />
<rect x="416.00" y="284.00" width="3.00" height="3.00" fill="#fff" />
<rect x="417.00" y="285.00" width="1.00" height="1.00" fill="#000" />
<rect x="421.00" y="276.00" width="4.00" height="1.00" fill="#fff" />
<rect x="421.00" y="282.00" width="4.00" height="1.00" fill="#fff" />
<rect x="421.00" y="287.00" width="4.00" height="1.00" fill="#fff" />
<rect x="422.00" y="284.00" width="3.00" height="3.00" fill="#fff" />
<rect x="423.00" y="285.00" width="1.00" height="1.00" fill="#000" />
<rect x="96.00" y="376.00" width="14.00" height="13.00" fill="#000" />
<rect x="97.00" y="377.00" width="1.00" height="5.00" fill="#fff" />
<rect x="97.00" y="383.00" width="1.00" height="5.00" fill="#fff" />
<rect x="103.00" y="377.00" width="1.00" height="5.00" fill="#fff" />
<rect x="103.00" y="383.00" width="1.00" height="5.00" fill="#fff" />
<rect x="108.00" y="377.00" width="1.00" height="5.00" fill="#fff" />
<rect x="108.00" y="383.00" width="1.00" height="5.00" fill="#fff" />
<rect x="97.00" y="381.00" width="12.00" height="1.00" fill="#fff" />
<rect x="251.00" y="488.00" width="13.00" height="13.00" fill="#000" />
<rect x="252.00" y="494.00" width="5.00" height="1.00" fill="#fff" />
<rect x="258.00" y="494.00" width="5.00" height="1.00" fill="#fff" />
<rect x="109.5" y="487.5" width="50" height="17.4" rx="3.5" fill="#fff" stroke="#000" stroke-width="1.3"/>
<rect x="111.7" y="489.7" width="45.6" height="13" rx="2.2" fill="#fff" stroke="#000" stroke-width="1.1"/>
<rect x="158.50" y="490.00" width="2.10" height="13.50" fill="#000" />
<rect x="47.00" y="3.80" width="40.80" height="17.00" rx="2.8" fill="#000"/>
<rect x="54.00" y="32.60" width="35.80" height="17.80" rx="2.8" fill="#000"/>
<rect x="65.50" y="54.60" width="35.90" height="18.20" rx="2.8" fill="#000"/>
<rect x="51.00" y="80.40" width="34.40" height="18.80" rx="2.8" fill="#000"/>
<rect x="34.40" y="100.40" width="42.00" height="18.40" rx="2.8" fill="#000"/>
<rect x="34.40" y="120.40" width="42.00" height="18.00" rx="2.8" fill="#000"/>
<rect x="173.00" y="65.60" width="41.60" height="18.20" rx="2.8" fill="#000"/>
<rect x="191.50" y="155.60" width="41.30" height="18.60" rx="2.8" fill="#000"/>
<rect x="113.80" y="140.60" width="40.00" height="17.40" rx="2.8" fill="#000"/>
<rect x="43.80" y="151.00" width="41.60" height="17.80" rx="2.8" fill="#000"/>
<rect x="121.00" y="162.60" width="40.40" height="17.80" rx="2.8" fill="#000"/>
<rect x="37.00" y="173.00" width="39.80" height="17.40" rx="2.8" fill="#000"/>
<rect x="318.50" y="112.60" width="40.70" height="18.00" rx="2.8" fill="#000"/>
<rect x="334.00" y="139.00" width="41.20" height="17.60" rx="2.8" fill="#000"/>
<rect x="334.00" y="158.40" width="34.40" height="17.00" rx="2.8" fill="#000"/>
<rect x="317.60" y="184.20" width="41.00" height="18.00" rx="2.8" fill="#000"/>
<rect x="393.50" y="44.40" width="32.10" height="18.70" rx="2.8" fill="#000"/>
<rect x="410.00" y="73.60" width="34.20" height="17.40" rx="2.8" fill="#000"/>
<rect x="410.00" y="94.00" width="34.20" height="18.20" rx="2.8" fill="#000"/>
<rect x="393.50" y="119.20" width="32.10" height="17.20" rx="2.8" fill="#000"/>
<rect x="226.50" y="224.30" width="40.90" height="17.80" rx="2.8" fill="#000"/>
<rect x="242.30" y="251.30" width="41.50" height="17.10" rx="2.8" fill="#000"/>
<rect x="220.30" y="277.00" width="41.50" height="17.60" rx="2.8" fill="#000"/>
<rect x="371.30" y="246.30" width="34.50" height="17.50" rx="2.8" fill="#000"/>
<rect x="422.00" y="246.30" width="33.80" height="17.50" rx="2.8" fill="#000"/>
<rect x="351.30" y="270.60" width="35.10" height="18.20" rx="2.8" fill="#000"/>
<rect x="440.50" y="270.60" width="35.90" height="18.20" rx="2.8" fill="#000"/>
<rect x="688.00" y="256.00" width="34.60" height="17.80" rx="2.8" fill="#000"/>
<rect x="688.00" y="289.00" width="34.60" height="18.80" rx="2.8" fill="#000"/>
<rect x="403.00" y="367.60" width="35.80" height="18.20" rx="2.8" fill="#000"/>
<rect x="403.00" y="395.60" width="35.80" height="18.20" rx="2.8" fill="#000"/>
<rect x="677.50" y="367.60" width="35.10" height="18.20" rx="2.8" fill="#000"/>
<rect x="701.00" y="395.60" width="35.40" height="17.80" rx="2.8" fill="#000"/>
<rect x="40.50" y="376.30" width="41.60" height="17.50" rx="2.8" fill="#000"/>
<rect x="125.00" y="370.60" width="41.40" height="17.80" rx="2.8" fill="#000"/>
<rect x="195.50" y="485.80" width="41.60" height="17.60" rx="2.8" fill="#000"/>
<rect x="278.80" y="485.80" width="40.60" height="17.60" rx="2.8" fill="#000"/>
<rect x="106.20" y="427.40" width="59.60" height="19.40" rx="2.8" fill="#000"/>
<rect x="535.00" y="443.00" width="60.20" height="18.80" rx="2.8" fill="#000"/>
<rect x="535.00" y="476.60" width="61.20" height="19.40" rx="2.8" fill="#000"/>
<rect x="48.80" y="5.60" width="36.10" height="12.30" rx="1.2" fill="#fff"/>
<rect x="55.80" y="34.40" width="31.10" height="13.10" rx="1.2" fill="#fff"/>
<rect x="67.30" y="56.40" width="31.20" height="13.50" rx="1.2" fill="#fff"/>
<rect x="52.80" y="82.20" width="29.70" height="14.10" rx="1.2" fill="#fff"/>
<rect x="36.20" y="102.20" width="37.30" height="13.70" rx="1.2" fill="#fff"/>
<rect x="36.20" y="122.20" width="37.30" height="13.30" rx="1.2" fill="#fff"/>
<rect x="174.80" y="67.40" width="36.90" height="13.50" rx="1.2" fill="#fff"/>
<rect x="193.30" y="157.40" width="36.60" height="13.90" rx="1.2" fill="#fff"/>
<rect x="115.60" y="142.40" width="35.30" height="12.70" rx="1.2" fill="#fff"/>
<rect x="45.60" y="152.80" width="36.90" height="13.10" rx="1.2" fill="#fff"/>
<rect x="122.80" y="164.40" width="35.70" height="13.10" rx="1.2" fill="#fff"/>
<rect x="38.80" y="174.80" width="35.10" height="12.70" rx="1.2" fill="#fff"/>
<rect x="320.30" y="114.40" width="36.00" height="13.30" rx="1.2" fill="#fff"/>
<rect x="335.80" y="140.80" width="36.50" height="12.90" rx="1.2" fill="#fff"/>
<rect x="335.80" y="160.20" width="29.70" height="12.30" rx="1.2" fill="#fff"/>
<rect x="319.40" y="186.00" width="36.30" height="13.30" rx="1.2" fill="#fff"/>
<rect x="395.30" y="46.20" width="27.40" height="14.00" rx="1.2" fill="#fff"/>
<rect x="411.80" y="75.40" width="29.50" height="12.70" rx="1.2" fill="#fff"/>
<rect x="411.80" y="95.80" width="29.50" height="13.50" rx="1.2" fill="#fff"/>
<rect x="395.30" y="121.00" width="27.40" height="12.50" rx="1.2" fill="#fff"/>
<rect x="228.30" y="226.10" width="36.20" height="13.10" rx="1.2" fill="#fff"/>
<rect x="244.10" y="253.10" width="36.80" height="12.40" rx="1.2" fill="#fff"/>
<rect x="222.10" y="278.80" width="36.80" height="12.90" rx="1.2" fill="#fff"/>
<rect x="373.10" y="248.10" width="29.80" height="12.80" rx="1.2" fill="#fff"/>
<rect x="423.80" y="248.10" width="29.10" height="12.80" rx="1.2" fill="#fff"/>
<rect x="353.10" y="272.40" width="30.40" height="13.50" rx="1.2" fill="#fff"/>
<rect x="442.30" y="272.40" width="31.20" height="13.50" rx="1.2" fill="#fff"/>
<rect x="689.80" y="257.80" width="29.90" height="13.10" rx="1.2" fill="#fff"/>
<rect x="689.80" y="290.80" width="29.90" height="14.10" rx="1.2" fill="#fff"/>
<rect x="404.80" y="369.40" width="31.10" height="13.50" rx="1.2" fill="#fff"/>
<rect x="404.80" y="397.40" width="31.10" height="13.50" rx="1.2" fill="#fff"/>
<rect x="679.30" y="369.40" width="30.40" height="13.50" rx="1.2" fill="#fff"/>
<rect x="702.80" y="397.40" width="30.70" height="13.10" rx="1.2" fill="#fff"/>
<rect x="42.30" y="378.10" width="36.90" height="12.80" rx="1.2" fill="#fff"/>
<rect x="126.80" y="372.40" width="36.70" height="13.10" rx="1.2" fill="#fff"/>
<rect x="197.30" y="487.60" width="36.90" height="12.90" rx="1.2" fill="#fff"/>
<rect x="280.60" y="487.60" width="35.90" height="12.90" rx="1.2" fill="#fff"/>
<rect x="108.00" y="429.20" width="54.90" height="14.70" rx="1.2" fill="#fff"/>
<rect x="536.80" y="444.80" width="55.50" height="14.10" rx="1.2" fill="#fff"/>
<rect x="536.80" y="478.40" width="56.50" height="14.70" rx="1.2" fill="#fff"/>
<path d="M48.21 14.48 L38.50 29.50 L50.19 18.12" stroke="#000" stroke-width="2.3" fill="#fff" stroke-linejoin="round"/>
<path d="M55.00 33.90 L46.50 39.44 L39.00 40.40 L39.00 42.60 L46.50 43.56 L55.00 49.10 Z" fill="#000"/>
<path d="M66.50 59.30 L49.50 63.10 L49.50 65.30 L66.50 66.90 Z" fill="#000"/>
<path d="M54.97 82.08 L45.00 74.40 L52.44 85.22" stroke="#000" stroke-width="2.3" fill="#fff" stroke-linejoin="round"/>
<path d="M35.40 105.30 L18.50 107.90 L18.50 110.10 L35.40 112.90 Z" fill="#000"/>
<path d="M35.40 125.10 L18.50 127.50 L18.50 129.70 L35.40 132.70 Z" fill="#000"/>
<path d="M174.00 66.50 L169.50 71.34 L158.00 73.10 L158.00 75.30 L169.50 77.06 L174.00 82.50 Z" fill="#000"/>
<path d="M196.26 157.35 L183.60 149.60 L193.24 160.65" stroke="#000" stroke-width="2.3" fill="#fff" stroke-linejoin="round"/>
<path d="M114.90 152.74 L105.40 165.40 L117.10 155.76" stroke="#000" stroke-width="2.3" fill="#fff" stroke-linejoin="round"/>
<path d="M83.33 162.10 L93.00 175.50 L80.97 166.00" stroke="#000" stroke-width="2.3" fill="#fff" stroke-linejoin="round"/>
<path d="M122.00 166.10 L106.00 169.50 L106.00 171.70 L122.00 173.30 Z" fill="#000"/>
<path d="M75.00 177.30 L93.00 180.70 L93.00 182.90 L75.00 185.10 Z" fill="#000"/>
<path d="M319.67 124.87 L310.00 138.40 L322.03 128.23" stroke="#000" stroke-width="2.3" fill="#fff" stroke-linejoin="round"/>
<path d="M335.00 142.90 L319.00 146.10 L319.00 148.30 L335.00 152.50 Z" fill="#000"/>
<path d="M335.00 161.70 L319.00 165.30 L319.00 167.50 L335.00 170.30 Z" fill="#000"/>
<path d="M322.26 185.77 L310.00 174.60 L319.24 189.13" stroke="#000" stroke-width="2.3" fill="#fff" stroke-linejoin="round"/>
<path d="M394.67 57.37 L385.00 70.00 L397.03 60.73" stroke="#000" stroke-width="2.3" fill="#fff" stroke-linejoin="round"/>
<path d="M411.00 78.30 L394.00 80.30 L394.00 82.50 L411.00 84.70 Z" fill="#000"/>
<path d="M411.00 99.10 L394.00 101.50 L394.00 103.70 L411.00 106.30 Z" fill="#000"/>
<path d="M397.83 120.66 L385.00 111.00 L394.97 123.74" stroke="#000" stroke-width="2.3" fill="#fff" stroke-linejoin="round"/>
<path d="M227.67 236.37 L218.50 251.00 L230.03 239.73" stroke="#000" stroke-width="2.3" fill="#fff" stroke-linejoin="round"/>
<path d="M243.30 255.10 L228.00 258.10 L228.00 260.30 L243.30 263.30 Z" fill="#000"/>
<path d="M224.78 278.50 L212.50 268.50 L221.81 281.69" stroke="#000" stroke-width="2.3" fill="#fff" stroke-linejoin="round"/>
<path d="M403.72 257.92 L410.80 271.00 L401.08 261.38" stroke="#000" stroke-width="2.3" fill="#fff" stroke-linejoin="round"/>
<path d="M423.28 257.92 L416.30 271.00 L425.92 261.38" stroke="#000" stroke-width="2.3" fill="#fff" stroke-linejoin="round"/>
<path d="M384.60 275.30 L401.50 278.10 L401.50 280.30 L384.60 283.30 Z" fill="#000"/>
<path d="M441.50 275.30 L425.50 278.10 L425.50 280.30 L441.50 283.30 Z" fill="#000"/>
<path d="M720.80 259.50 L738.00 262.70 L738.00 264.90 L720.80 268.90 Z" fill="#000"/>
<path d="M720.80 293.30 L738.00 296.90 L738.00 299.10 L720.80 302.90 Z" fill="#000"/>
<path d="M437.00 372.30 L453.50 375.30 L453.50 377.50 L437.00 380.70 Z" fill="#000"/>
<path d="M437.00 400.10 L453.50 403.10 L453.50 405.30 L437.00 408.70 Z" fill="#000"/>
<path d="M678.50 372.30 L662.50 375.30 L662.50 377.50 L678.50 380.70 Z" fill="#000"/>
<path d="M702.00 400.10 L686.00 403.10 L686.00 405.30 L702.00 408.70 Z" fill="#000"/>
<path d="M80.30 381.10 L96.50 383.30 L96.50 385.50 L80.30 388.70 Z" fill="#000"/>
<path d="M126.00 375.70 L109.50 379.30 L109.50 381.50 L126.00 383.90 Z" fill="#000"/>
<path d="M235.30 490.10 L251.50 493.10 L251.50 495.30 L235.30 498.30 Z" fill="#000"/>
<path d="M279.80 490.10 L263.50 493.10 L263.50 495.30 L279.80 498.30 Z" fill="#000"/>
<path d="M48.21 14.48 L50.19 18.12" stroke="#fff" stroke-width="2.2" fill="none" stroke-linecap="butt"/>
<path d="M56.00 36.54 L55.00 36.54 L47.70 41.00 L44.00 41.50 L47.70 42.00 L55.00 46.46 L56.00 46.46 Z" fill="#fff"/>
<path d="M67.50 61.50 L66.50 61.50 L56.43 63.87 L66.50 64.70 L67.50 64.70 Z" fill="#fff"/>
<path d="M54.97 82.08 L52.44 85.22" stroke="#fff" stroke-width="2.2" fill="none" stroke-linecap="butt"/>
<path d="M36.40 107.50 L35.40 107.50 L25.39 109.03 L35.40 110.70 L36.40 110.70 Z" fill="#fff"/>
<path d="M36.40 127.30 L35.40 127.30 L25.39 128.69 L35.40 130.50 L36.40 130.50 Z" fill="#fff"/>
<path d="M175.00 69.14 L174.00 69.14 L170.70 72.90 L167.00 74.20 L170.70 75.50 L174.00 79.86 L175.00 79.86 Z" fill="#fff"/>
<path d="M196.26 157.35 L193.24 160.65" stroke="#fff" stroke-width="2.2" fill="none" stroke-linecap="butt"/>
<path d="M114.90 152.74 L117.10 155.76" stroke="#fff" stroke-width="2.2" fill="none" stroke-linecap="butt"/>
<path d="M83.33 162.10 L80.97 166.00" stroke="#fff" stroke-width="2.2" fill="none" stroke-linecap="butt"/>
<path d="M123.00 168.30 L122.00 168.30 L113.04 170.33 L122.00 171.10 L123.00 171.10 Z" fill="#fff"/>
<path d="M74.00 179.50 L75.00 179.50 L85.93 181.62 L75.00 182.90 L74.00 182.90 Z" fill="#fff"/>
<path d="M319.67 124.87 L322.03 128.23" stroke="#fff" stroke-width="2.2" fill="none" stroke-linecap="butt"/>
<path d="M336.00 145.10 L335.00 145.10 L323.76 147.35 L335.00 150.30 L336.00 150.30 Z" fill="#fff"/>
<path d="M336.00 163.90 L335.00 163.90 L324.50 166.28 L335.00 168.10 L336.00 168.10 Z" fill="#fff"/>
<path d="M322.26 185.77 L319.24 189.13" stroke="#fff" stroke-width="2.2" fill="none" stroke-linecap="butt"/>
<path d="M394.67 57.37 L397.03 60.73" stroke="#fff" stroke-width="2.2" fill="none" stroke-linecap="butt"/>
<path d="M412.00 80.50 L411.00 80.50 L402.90 81.43 L411.00 82.50 L412.00 82.50 Z" fill="#fff"/>
<path d="M412.00 101.30 L411.00 101.30 L401.48 102.63 L411.00 104.10 L412.00 104.10 Z" fill="#fff"/>
<path d="M397.83 120.66 L394.97 123.74" stroke="#fff" stroke-width="2.2" fill="none" stroke-linecap="butt"/>
<path d="M227.67 236.37 L230.03 239.73" stroke="#fff" stroke-width="2.2" fill="none" stroke-linecap="butt"/>
<path d="M244.30 257.30 L243.30 257.30 L233.61 259.20 L243.30 261.10 L244.30 261.10 Z" fill="#fff"/>
<path d="M224.78 278.50 L221.81 281.69" stroke="#fff" stroke-width="2.2" fill="none" stroke-linecap="butt"/>
<path d="M403.72 257.92 L401.08 261.38" stroke="#fff" stroke-width="2.2" fill="none" stroke-linecap="butt"/>
<path d="M423.28 257.92 L425.92 261.38" stroke="#fff" stroke-width="2.2" fill="none" stroke-linecap="butt"/>
<path d="M383.60 277.50 L384.60 277.50 L395.09 279.23 L384.60 281.10 L383.60 281.10 Z" fill="#fff"/>
<path d="M442.50 277.50 L441.50 277.50 L431.57 279.23 L441.50 281.10 L442.50 281.10 Z" fill="#fff"/>
<path d="M719.80 261.70 L720.80 261.70 L732.74 263.92 L720.80 266.70 L719.80 266.70 Z" fill="#fff"/>
<path d="M719.80 295.50 L720.80 295.50 L732.89 298.03 L720.80 300.70 L719.80 300.70 Z" fill="#fff"/>
<path d="M436.00 374.50 L437.00 374.50 L447.65 376.43 L437.00 378.50 L436.00 378.50 Z" fill="#fff"/>
<path d="M436.00 402.30 L437.00 402.30 L447.83 404.26 L437.00 406.50 L436.00 406.50 Z" fill="#fff"/>
<path d="M679.50 374.50 L678.50 374.50 L668.18 376.43 L678.50 378.50 L679.50 378.50 Z" fill="#fff"/>
<path d="M703.00 402.30 L702.00 402.30 L691.50 404.26 L702.00 406.50 L703.00 406.50 Z" fill="#fff"/>
<path d="M79.30 383.30 L80.30 383.30 L89.90 384.55 L80.30 386.50 L79.30 386.50 Z" fill="#fff"/>
<path d="M127.00 377.90 L126.00 377.90 L115.55 380.22 L126.00 381.70 L127.00 381.70 Z" fill="#fff"/>
<path d="M234.30 492.30 L235.30 492.30 L245.56 494.20 L235.30 496.10 L234.30 496.10 Z" fill="#fff"/>
<path d="M280.80 492.30 L279.80 492.30 L269.48 494.20 L279.80 496.10 L280.80 496.10 Z" fill="#fff"/>
</g>
<g filter="url(#bwt)">
<text transform="translate(177.90 42.60) scale(0.73 1)" font-family="Liberation Sans, sans-serif" font-size="14" text-anchor="middle" letter-spacing="2.47" fill="#000"  >BIOS</text>
<text transform="translate(270.85 35.00) scale(0.8 1)" font-family="Liberation Sans, sans-serif" font-size="13" text-anchor="middle" letter-spacing="1.12" fill="#fff" font-weight="bold" stroke="#fff" stroke-width="0.3">REAL TIME</text>
<text transform="translate(270.75 48.80) scale(0.8 1)" font-family="Liberation Sans, sans-serif" font-size="13" text-anchor="middle" letter-spacing="1.12" fill="#fff" font-weight="bold" stroke="#fff" stroke-width="0.3">CLOCK</text>
<text transform="translate(308.70 93.80) scale(0.73 1)" font-family="Liberation Sans, sans-serif" font-size="14" text-anchor="middle" letter-spacing="2.47" fill="#000"  >KBD</text>
<text transform="translate(231.50 141.40) scale(0.73 1)" font-family="Liberation Sans, sans-serif" font-size="14" text-anchor="middle" letter-spacing="3.56" fill="#000"  >TAG</text>
<text transform="translate(637.00 55.80) scale(0.8 1)" font-family="Liberation Sans, sans-serif" font-size="11" text-anchor="middle" letter-spacing="2.00" fill="#000"  >MH2824</text>
<text transform="translate(603.30 212.00) scale(0.73 1)" font-family="Liberation Sans, sans-serif" font-size="14" text-anchor="middle" letter-spacing="2.47" fill="#000"  >PC4</text>
<text transform="translate(603.30 256.00) scale(0.73 1)" font-family="Liberation Sans, sans-serif" font-size="14" text-anchor="middle" letter-spacing="2.47" fill="#000"  >PC3</text>
<text transform="translate(603.30 301.00) scale(0.73 1)" font-family="Liberation Sans, sans-serif" font-size="14" text-anchor="middle" letter-spacing="2.47" fill="#000"  >PC2</text>
<text transform="translate(590.66 345.00) scale(0.73 1)" font-family="Liberation Sans, sans-serif" font-size="14" fill="#000"  >P</text>
<text transform="translate(599.28 345.00) scale(0.73 1)" font-family="Liberation Sans, sans-serif" font-size="14" fill="#000"  >C</text>
<path d="M611.50 335 V345 M609.00 337.50 L611.00 335.50" stroke="#000" stroke-width="1" fill="none"/>
<text transform="translate(66.20 348.80) scale(0.86 1)" font-family="Liberation Sans, sans-serif" font-size="17" text-anchor="middle" letter-spacing="1.86" fill="#fff"  stroke="#000" stroke-width="0.3">AMP</text>
<text transform="translate(111.70 271.40) scale(0.73 1)" font-family="Liberation Sans, sans-serif" font-size="14" text-anchor="middle" letter-spacing="4.11" fill="#000"  >CPU</text>
<text transform="translate(134.90 501.00) scale(0.73 1)" font-family="Liberation Sans, sans-serif" font-size="14" text-anchor="middle" letter-spacing="2.47" fill="#000"  >CACHE</text>
<text transform="translate(51.37 16.20) scale(0.73 1)" font-family="Liberation Sans, sans-serif" font-size="14" fill="#000"  >J</text>
<text transform="translate(58.28 16.20) scale(0.73 1)" font-family="Liberation Sans, sans-serif" font-size="14" fill="#000"  >C</text>
<path d="M70.50 6 V16 M68.00 8.50 L70.00 6.50" stroke="#000" stroke-width="1" fill="none"/>
<path d="M78.50 6 V16 M76.00 8.50 L78.00 6.50" stroke="#000" stroke-width="1" fill="none"/>
<text transform="translate(71.40 45.40) scale(0.73 1)" font-family="Liberation Sans, sans-serif" font-size="14" text-anchor="middle" letter-spacing="2.47" fill="#000"  >JC7</text>
<text transform="translate(82.95 67.60) scale(0.73 1)" font-family="Liberation Sans, sans-serif" font-size="14" text-anchor="middle" letter-spacing="2.47" fill="#000"  >JC9</text>
<text transform="translate(67.70 93.70) scale(0.73 1)" font-family="Liberation Sans, sans-serif" font-size="14" text-anchor="middle" letter-spacing="2.47" fill="#000"  >JC8</text>
<text transform="translate(39.37 113.50) scale(0.73 1)" font-family="Liberation Sans, sans-serif" font-size="14" fill="#000"  >J</text>
<text transform="translate(46.28 113.50) scale(0.73 1)" font-family="Liberation Sans, sans-serif" font-size="14" fill="#000"  >C</text>
<path d="M58.50 104 V114 M56.00 106.50 L58.00 104.50" stroke="#000" stroke-width="1" fill="none"/>
<text transform="translate(62.95 113.50) scale(0.73 1)" font-family="Liberation Sans, sans-serif" font-size="14" fill="#000"  >3</text>
<text transform="translate(39.37 133.30) scale(0.73 1)" font-family="Liberation Sans, sans-serif" font-size="14" fill="#000"  >J</text>
<text transform="translate(46.28 133.30) scale(0.73 1)" font-family="Liberation Sans, sans-serif" font-size="14" fill="#000"  >C</text>
<path d="M58.50 124 V133 M56.00 126.50 L58.00 124.50" stroke="#000" stroke-width="1" fill="none"/>
<text transform="translate(62.95 133.30) scale(0.73 1)" font-family="Liberation Sans, sans-serif" font-size="14" fill="#000"  >2</text>
<text transform="translate(178.05 78.60) scale(0.73 1)" font-family="Liberation Sans, sans-serif" font-size="14" fill="#000"  >J</text>
<text transform="translate(184.96 78.60) scale(0.73 1)" font-family="Liberation Sans, sans-serif" font-size="14" fill="#000"  >S</text>
<path d="M196.50 69 V79 M194.00 71.50 L196.00 69.50" stroke="#000" stroke-width="1" fill="none"/>
<text transform="translate(201.06 78.60) scale(0.73 1)" font-family="Liberation Sans, sans-serif" font-size="14" fill="#000"  >9</text>
<text transform="translate(196.40 168.80) scale(0.73 1)" font-family="Liberation Sans, sans-serif" font-size="14" fill="#000"  >J</text>
<text transform="translate(203.31 168.80) scale(0.73 1)" font-family="Liberation Sans, sans-serif" font-size="14" fill="#000"  >S</text>
<path d="M215.50 159 V169 M213.00 161.50 L215.00 159.50" stroke="#000" stroke-width="1" fill="none"/>
<text transform="translate(219.41 168.80) scale(0.73 1)" font-family="Liberation Sans, sans-serif" font-size="14" fill="#000"  >8</text>
<text transform="translate(133.30 153.20) scale(0.73 1)" font-family="Liberation Sans, sans-serif" font-size="14" text-anchor="middle" letter-spacing="2.47" fill="#000"  >JS23</text>
<text transform="translate(64.10 163.80) scale(0.73 1)" font-family="Liberation Sans, sans-serif" font-size="14" text-anchor="middle" letter-spacing="2.47" fill="#000"  >JS25</text>
<text transform="translate(140.70 175.40) scale(0.73 1)" font-family="Liberation Sans, sans-serif" font-size="14" text-anchor="middle" letter-spacing="2.47" fill="#000"  >JS22</text>
<text transform="translate(56.40 185.60) scale(0.73 1)" font-family="Liberation Sans, sans-serif" font-size="14" text-anchor="middle" letter-spacing="2.47" fill="#000"  >JS24</text>
<text transform="translate(323.10 125.50) scale(0.73 1)" font-family="Liberation Sans, sans-serif" font-size="14" fill="#000"  >J</text>
<text transform="translate(330.01 125.50) scale(0.73 1)" font-family="Liberation Sans, sans-serif" font-size="14" fill="#000"  >S</text>
<path d="M341.50 116 V126 M339.00 118.50 L341.00 116.50" stroke="#000" stroke-width="1" fill="none"/>
<text transform="translate(346.11 125.50) scale(0.73 1)" font-family="Liberation Sans, sans-serif" font-size="14" fill="#000"  >2</text>
<text transform="translate(338.85 151.70) scale(0.73 1)" font-family="Liberation Sans, sans-serif" font-size="14" fill="#000"  >J</text>
<text transform="translate(345.76 151.70) scale(0.73 1)" font-family="Liberation Sans, sans-serif" font-size="14" fill="#000"  >S</text>
<path d="M357.50 142 V152 M355.00 144.50 L357.00 142.50" stroke="#000" stroke-width="1" fill="none"/>
<path d="M365.50 142 V152 M363.00 144.50 L365.00 142.50" stroke="#000" stroke-width="1" fill="none"/>
<text transform="translate(350.70 170.80) scale(0.73 1)" font-family="Liberation Sans, sans-serif" font-size="14" text-anchor="middle" letter-spacing="2.47" fill="#000"  >JS9</text>
<text transform="translate(322.35 197.10) scale(0.73 1)" font-family="Liberation Sans, sans-serif" font-size="14" fill="#000"  >J</text>
<text transform="translate(329.26 197.10) scale(0.73 1)" font-family="Liberation Sans, sans-serif" font-size="14" fill="#000"  >S</text>
<path d="M341.50 187 V197 M339.00 189.50 L341.00 187.50" stroke="#000" stroke-width="1" fill="none"/>
<text transform="translate(345.36 197.10) scale(0.73 1)" font-family="Liberation Sans, sans-serif" font-size="14" fill="#000"  >0</text>
<text transform="translate(409.05 57.65) scale(0.73 1)" font-family="Liberation Sans, sans-serif" font-size="14" text-anchor="middle" letter-spacing="2.47" fill="#000"  >JS8</text>
<text transform="translate(426.60 86.20) scale(0.73 1)" font-family="Liberation Sans, sans-serif" font-size="14" text-anchor="middle" letter-spacing="2.47" fill="#000"  >JS7</text>
<text transform="translate(426.60 107.00) scale(0.73 1)" font-family="Liberation Sans, sans-serif" font-size="14" text-anchor="middle" letter-spacing="2.47" fill="#000"  >JS5</text>
<text transform="translate(409.05 131.70) scale(0.73 1)" font-family="Liberation Sans, sans-serif" font-size="14" text-anchor="middle" letter-spacing="2.47" fill="#000"  >JS6</text>
<text transform="translate(231.20 237.10) scale(0.73 1)" font-family="Liberation Sans, sans-serif" font-size="14" fill="#000"  >J</text>
<text transform="translate(238.11 237.10) scale(0.73 1)" font-family="Liberation Sans, sans-serif" font-size="14" fill="#000"  >S</text>
<path d="M249.50 227 V237 M247.00 229.50 L249.00 227.50" stroke="#000" stroke-width="1" fill="none"/>
<text transform="translate(254.21 237.10) scale(0.73 1)" font-family="Liberation Sans, sans-serif" font-size="14" fill="#000"  >6</text>
<text transform="translate(247.30 263.75) scale(0.73 1)" font-family="Liberation Sans, sans-serif" font-size="14" fill="#000"  >J</text>
<text transform="translate(254.21 263.75) scale(0.73 1)" font-family="Liberation Sans, sans-serif" font-size="14" fill="#000"  >S</text>
<path d="M266.50 254 V264 M264.00 256.50 L266.00 254.50" stroke="#000" stroke-width="1" fill="none"/>
<text transform="translate(270.31 263.75) scale(0.73 1)" font-family="Liberation Sans, sans-serif" font-size="14" fill="#000"  >5</text>
<text transform="translate(225.30 289.70) scale(0.73 1)" font-family="Liberation Sans, sans-serif" font-size="14" fill="#000"  >J</text>
<text transform="translate(232.21 289.70) scale(0.73 1)" font-family="Liberation Sans, sans-serif" font-size="14" fill="#000"  >S</text>
<path d="M244.50 280 V290 M242.00 282.50 L244.00 280.50" stroke="#000" stroke-width="1" fill="none"/>
<text transform="translate(248.31 289.70) scale(0.73 1)" font-family="Liberation Sans, sans-serif" font-size="14" fill="#000"  >7</text>
<text transform="translate(388.05 258.95) scale(0.73 1)" font-family="Liberation Sans, sans-serif" font-size="14" text-anchor="middle" letter-spacing="2.47" fill="#000"  >JS3</text>
<text transform="translate(438.40 258.95) scale(0.73 1)" font-family="Liberation Sans, sans-serif" font-size="14" text-anchor="middle" letter-spacing="2.47" fill="#000"  >JS2</text>
<text transform="translate(368.35 283.60) scale(0.73 1)" font-family="Liberation Sans, sans-serif" font-size="14" text-anchor="middle" letter-spacing="2.47" fill="#000"  >JS4</text>
<text transform="translate(446.44 283.60) scale(0.73 1)" font-family="Liberation Sans, sans-serif" font-size="14" fill="#000"  >J</text>
<text transform="translate(453.35 283.60) scale(0.73 1)" font-family="Liberation Sans, sans-serif" font-size="14" fill="#000"  >S</text>
<path d="M465.50 274 V284 M463.00 276.50 L465.00 274.50" stroke="#000" stroke-width="1" fill="none"/>
<text transform="translate(704.80 268.80) scale(0.73 1)" font-family="Liberation Sans, sans-serif" font-size="14" text-anchor="middle" letter-spacing="2.47" fill="#000"  >JC2</text>
<text transform="translate(693.01 302.30) scale(0.73 1)" font-family="Liberation Sans, sans-serif" font-size="14" fill="#000"  >J</text>
<text transform="translate(699.92 302.30) scale(0.73 1)" font-family="Liberation Sans, sans-serif" font-size="14" fill="#000"  >C</text>
<path d="M712.50 292 V302 M710.00 294.50 L712.00 292.50" stroke="#000" stroke-width="1" fill="none"/>
<text transform="translate(420.40 380.60) scale(0.73 1)" font-family="Liberation Sans, sans-serif" font-size="14" text-anchor="middle" letter-spacing="2.47" fill="#000"  >JC6</text>
<text transform="translate(420.40 408.60) scale(0.73 1)" font-family="Liberation Sans, sans-serif" font-size="14" text-anchor="middle" letter-spacing="2.47" fill="#000"  >JC5</text>
<text transform="translate(694.55 380.60) scale(0.73 1)" font-family="Liberation Sans, sans-serif" font-size="14" text-anchor="middle" letter-spacing="2.47" fill="#000"  >JC4</text>
<text transform="translate(718.20 408.40) scale(0.73 1)" font-family="Liberation Sans, sans-serif" font-size="14" text-anchor="middle" letter-spacing="2.47" fill="#000"  >JC3</text>
<text transform="translate(60.80 388.95) scale(0.73 1)" font-family="Liberation Sans, sans-serif" font-size="14" text-anchor="middle" letter-spacing="2.47" fill="#000"  >JS20</text>
<text transform="translate(129.95 383.40) scale(0.73 1)" font-family="Liberation Sans, sans-serif" font-size="14" fill="#000"  >J</text>
<text transform="translate(136.86 383.40) scale(0.73 1)" font-family="Liberation Sans, sans-serif" font-size="14" fill="#000"  >S</text>
<text transform="translate(145.48 383.40) scale(0.73 1)" font-family="Liberation Sans, sans-serif" font-size="14" fill="#000"  >2</text>
<path d="M156.50 374 V383 M154.00 376.50 L156.00 374.50" stroke="#000" stroke-width="1" fill="none"/>
<text transform="translate(200.55 498.50) scale(0.73 1)" font-family="Liberation Sans, sans-serif" font-size="14" fill="#000"  >J</text>
<text transform="translate(207.46 498.50) scale(0.73 1)" font-family="Liberation Sans, sans-serif" font-size="14" fill="#000"  >S</text>
<path d="M219.50 489 V499 M217.00 491.50 L219.00 489.50" stroke="#000" stroke-width="1" fill="none"/>
<text transform="translate(223.56 498.50) scale(0.73 1)" font-family="Liberation Sans, sans-serif" font-size="14" fill="#000"  >4</text>
<text transform="translate(283.35 498.50) scale(0.73 1)" font-family="Liberation Sans, sans-serif" font-size="14" fill="#000"  >J</text>
<text transform="translate(290.26 498.50) scale(0.73 1)" font-family="Liberation Sans, sans-serif" font-size="14" fill="#000"  >S</text>
<path d="M302.50 489 V499 M300.00 491.50 L302.00 489.50" stroke="#000" stroke-width="1" fill="none"/>
<text transform="translate(306.36 498.50) scale(0.73 1)" font-family="Liberation Sans, sans-serif" font-size="14" fill="#000"  >3</text>
<text transform="translate(135.50 441.00) scale(0.73 1)" font-family="Liberation Sans, sans-serif" font-size="14" text-anchor="middle" letter-spacing="2.47" fill="#000"  >BANK 0</text>
<text transform="translate(541.02 456.30) scale(0.73 1)" font-family="Liberation Sans, sans-serif" font-size="14" fill="#000"  >B</text>
<text transform="translate(549.64 456.30) scale(0.73 1)" font-family="Liberation Sans, sans-serif" font-size="14" fill="#000"  >A</text>
<text transform="translate(558.26 456.30) scale(0.73 1)" font-family="Liberation Sans, sans-serif" font-size="14" fill="#000"  >N</text>
<text transform="translate(567.44 456.30) scale(0.73 1)" font-family="Liberation Sans, sans-serif" font-size="14" fill="#000"  >K</text>
<path d="M583.50 446 V456 M581.00 448.50 L583.00 446.50" stroke="#000" stroke-width="1" fill="none"/>
<text transform="translate(565.10 490.20) scale(0.73 1)" font-family="Liberation Sans, sans-serif" font-size="14" text-anchor="middle" letter-spacing="2.47" fill="#000"  >BANK 0</text>
</g>
</svg>
</body></html>
